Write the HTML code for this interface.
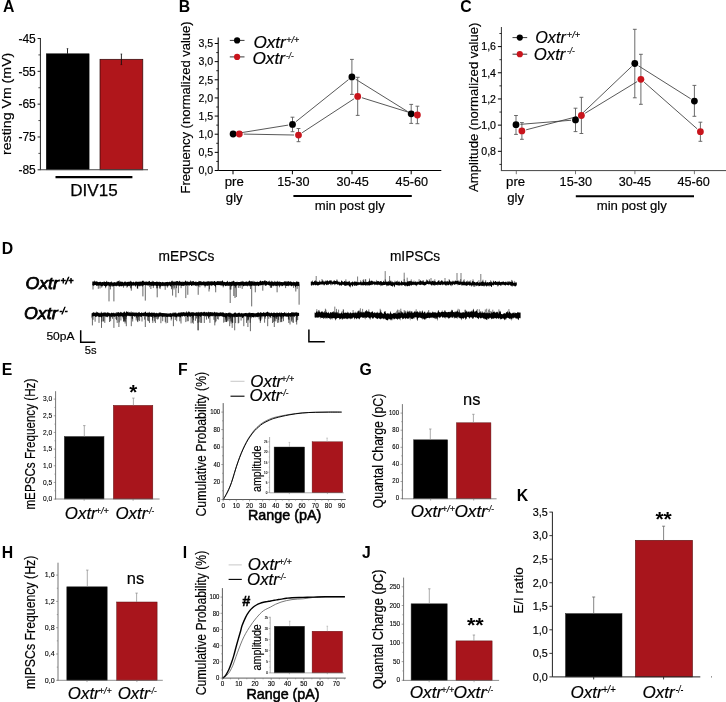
<!DOCTYPE html>
<html><head><meta charset="utf-8"><title>Figure</title>
<style>
html,body{margin:0;padding:0;background:#fff;}
svg{display:block;font-family:"Liberation Sans",sans-serif;filter:blur(0.35px);}
text{font-family:"Liberation Sans",sans-serif;}
</style></head><body>
<svg width="726" height="702" viewBox="0 0 726 702">
<rect width="726" height="702" fill="#fff"/>
<text x="3.00" y="12.10" font-size="15.8" text-anchor="start" font-weight="bold" >A</text>
<text x="178.80" y="12.10" font-size="15.8" text-anchor="start" font-weight="bold" >B</text>
<text x="460.20" y="12.30" font-size="15.8" text-anchor="start" font-weight="bold" >C</text>
<text x="1.80" y="253.80" font-size="15.8" text-anchor="start" font-weight="bold" >D</text>
<text x="1.80" y="374.60" font-size="15.8" text-anchor="start" font-weight="bold" >E</text>
<text x="178.00" y="374.60" font-size="15.8" text-anchor="start" font-weight="bold" >F</text>
<text x="359.60" y="375.00" font-size="15.8" text-anchor="start" font-weight="bold" >G</text>
<text x="1.80" y="557.80" font-size="15.8" text-anchor="start" font-weight="bold" >H</text>
<text x="182.80" y="557.80" font-size="15.8" text-anchor="start" font-weight="bold" >I</text>
<text x="362.00" y="557.80" font-size="15.8" text-anchor="start" font-weight="bold" >J</text>
<text x="516.80" y="501.20" font-size="15.8" text-anchor="start" font-weight="bold" >K</text>
<rect x="46.30" y="53.80" width="42.80" height="116.00" fill="#000" stroke="#000" stroke-width="0.5"/>
<rect x="100.00" y="59.30" width="42.80" height="110.50" fill="#b0161b" stroke="#2a0808" stroke-width="0.7"/>
<line x1="40.40" y1="38.00" x2="40.40" y2="169.80" stroke="#222" stroke-width="1.0" />
<line x1="39.90" y1="169.80" x2="148.00" y2="169.80" stroke="#444" stroke-width="1.1" />
<line x1="37.60" y1="38.50" x2="40.40" y2="38.50" stroke="#222" stroke-width="1" />
<text x="35.80" y="42.80" font-size="12" text-anchor="end"  stroke="#000" stroke-width="0.18">-45</text>
<line x1="37.60" y1="71.33" x2="40.40" y2="71.33" stroke="#222" stroke-width="1" />
<text x="35.80" y="75.62" font-size="12" text-anchor="end"  stroke="#000" stroke-width="0.18">-55</text>
<line x1="37.60" y1="104.15" x2="40.40" y2="104.15" stroke="#222" stroke-width="1" />
<text x="35.80" y="108.45" font-size="12" text-anchor="end"  stroke="#000" stroke-width="0.18">-65</text>
<line x1="37.60" y1="136.98" x2="40.40" y2="136.98" stroke="#222" stroke-width="1" />
<text x="35.80" y="141.28" font-size="12" text-anchor="end"  stroke="#000" stroke-width="0.18">-75</text>
<line x1="37.60" y1="169.80" x2="40.40" y2="169.80" stroke="#222" stroke-width="1" />
<text x="35.80" y="174.10" font-size="12" text-anchor="end"  stroke="#000" stroke-width="0.18">-85</text>
<line x1="38.40" y1="54.91" x2="40.40" y2="54.91" stroke="#222" stroke-width="0.8" />
<line x1="38.40" y1="87.74" x2="40.40" y2="87.74" stroke="#222" stroke-width="0.8" />
<line x1="38.40" y1="120.56" x2="40.40" y2="120.56" stroke="#222" stroke-width="0.8" />
<line x1="38.40" y1="153.39" x2="40.40" y2="153.39" stroke="#222" stroke-width="0.8" />
<line x1="67.50" y1="48.60" x2="67.50" y2="53.80" stroke="#111" stroke-width="0.9" />
<line x1="66.70" y1="48.60" x2="68.30" y2="48.60" stroke="#222" stroke-width="0.7" />
<line x1="121.40" y1="54.00" x2="121.40" y2="64.60" stroke="#111" stroke-width="0.9" />
<line x1="120.60" y1="54.00" x2="122.20" y2="54.00" stroke="#222" stroke-width="0.7" />
<line x1="120.60" y1="64.60" x2="122.20" y2="64.60" stroke="#300" stroke-width="0.7" />
<line x1="55.50" y1="177.20" x2="132.40" y2="177.20" stroke="#000" stroke-width="2.2" />
<text x="93.90" y="195.60" font-size="16.8" text-anchor="middle" textLength="47.50" lengthAdjust="spacingAndGlyphs" stroke="#000" stroke-width="0.25">DIV15</text>
<text x="0" y="0" font-size="13.5" textLength="102.30" lengthAdjust="spacingAndGlyphs" stroke="#000" stroke-width="0.18" transform="translate(11.20 155.00) rotate(-90)">resting Vm (mV)</text>
<line x1="218.20" y1="37.40" x2="218.20" y2="170.50" stroke="#000" stroke-width="1.1" />
<line x1="218.20" y1="170.50" x2="441.30" y2="170.50" stroke="#000" stroke-width="1.1" />
<line x1="214.70" y1="43.50" x2="218.20" y2="43.50" stroke="#000" stroke-width="1" />
<text x="213.20" y="47.30" font-size="10.6" text-anchor="end"  stroke="#000" stroke-width="0.18">3,5</text>
<line x1="216.20" y1="52.57" x2="218.20" y2="52.57" stroke="#000" stroke-width="0.8" />
<line x1="214.70" y1="61.64" x2="218.20" y2="61.64" stroke="#000" stroke-width="1" />
<text x="213.20" y="65.44" font-size="10.6" text-anchor="end"  stroke="#000" stroke-width="0.18">3,0</text>
<line x1="216.20" y1="70.71" x2="218.20" y2="70.71" stroke="#000" stroke-width="0.8" />
<line x1="214.70" y1="79.79" x2="218.20" y2="79.79" stroke="#000" stroke-width="1" />
<text x="213.20" y="83.59" font-size="10.6" text-anchor="end"  stroke="#000" stroke-width="0.18">2,5</text>
<line x1="216.20" y1="88.86" x2="218.20" y2="88.86" stroke="#000" stroke-width="0.8" />
<line x1="214.70" y1="97.93" x2="218.20" y2="97.93" stroke="#000" stroke-width="1" />
<text x="213.20" y="101.73" font-size="10.6" text-anchor="end"  stroke="#000" stroke-width="0.18">2,0</text>
<line x1="216.20" y1="107.00" x2="218.20" y2="107.00" stroke="#000" stroke-width="0.8" />
<line x1="214.70" y1="116.07" x2="218.20" y2="116.07" stroke="#000" stroke-width="1" />
<text x="213.20" y="119.87" font-size="10.6" text-anchor="end"  stroke="#000" stroke-width="0.18">1,5</text>
<line x1="216.20" y1="125.14" x2="218.20" y2="125.14" stroke="#000" stroke-width="0.8" />
<line x1="214.70" y1="134.21" x2="218.20" y2="134.21" stroke="#000" stroke-width="1" />
<text x="213.20" y="138.01" font-size="10.6" text-anchor="end"  stroke="#000" stroke-width="0.18">1,0</text>
<line x1="216.20" y1="143.29" x2="218.20" y2="143.29" stroke="#000" stroke-width="0.8" />
<line x1="214.70" y1="152.36" x2="218.20" y2="152.36" stroke="#000" stroke-width="1" />
<text x="213.20" y="156.16" font-size="10.6" text-anchor="end"  stroke="#000" stroke-width="0.18">0,5</text>
<line x1="216.20" y1="161.43" x2="218.20" y2="161.43" stroke="#000" stroke-width="0.8" />
<line x1="214.70" y1="170.50" x2="218.20" y2="170.50" stroke="#000" stroke-width="1" />
<text x="213.20" y="174.30" font-size="10.6" text-anchor="end"  stroke="#000" stroke-width="0.18">0,0</text>
<line x1="237.44" y1="133.30" x2="288.16" y2="125.10" stroke="#3a3a3a" stroke-width="0.85" />
<line x1="295.94" y1="121.65" x2="348.46" y2="79.65" stroke="#3a3a3a" stroke-width="0.85" />
<line x1="355.64" y1="79.22" x2="407.46" y2="111.48" stroke="#3a3a3a" stroke-width="0.85" />
<line x1="292.50" y1="117.20" x2="292.50" y2="131.70" stroke="#5a5a5a" stroke-width="0.9" />
<line x1="290.60" y1="117.20" x2="294.40" y2="117.20" stroke="#5a5a5a" stroke-width="0.9" />
<line x1="290.60" y1="131.70" x2="294.40" y2="131.70" stroke="#5a5a5a" stroke-width="0.9" />
<line x1="351.90" y1="59.40" x2="351.90" y2="94.40" stroke="#5a5a5a" stroke-width="0.9" />
<line x1="350.00" y1="59.40" x2="353.80" y2="59.40" stroke="#5a5a5a" stroke-width="0.9" />
<line x1="350.00" y1="94.40" x2="353.80" y2="94.40" stroke="#5a5a5a" stroke-width="0.9" />
<line x1="411.20" y1="104.40" x2="411.20" y2="123.40" stroke="#5a5a5a" stroke-width="0.9" />
<line x1="409.30" y1="104.40" x2="413.10" y2="104.40" stroke="#5a5a5a" stroke-width="0.9" />
<line x1="409.30" y1="123.40" x2="413.10" y2="123.40" stroke="#5a5a5a" stroke-width="0.9" />
<line x1="243.70" y1="134.08" x2="294.10" y2="135.02" stroke="#3a3a3a" stroke-width="0.85" />
<line x1="302.18" y1="132.69" x2="354.02" y2="98.81" stroke="#3a3a3a" stroke-width="0.85" />
<line x1="361.90" y1="97.71" x2="413.20" y2="113.69" stroke="#3a3a3a" stroke-width="0.85" />
<line x1="298.50" y1="128.50" x2="298.50" y2="141.70" stroke="#5a5a5a" stroke-width="0.9" />
<line x1="296.60" y1="128.50" x2="300.40" y2="128.50" stroke="#5a5a5a" stroke-width="0.9" />
<line x1="296.60" y1="141.70" x2="300.40" y2="141.70" stroke="#5a5a5a" stroke-width="0.9" />
<line x1="357.70" y1="77.30" x2="357.70" y2="115.40" stroke="#5a5a5a" stroke-width="0.9" />
<line x1="355.80" y1="77.30" x2="359.60" y2="77.30" stroke="#5a5a5a" stroke-width="0.9" />
<line x1="355.80" y1="115.40" x2="359.60" y2="115.40" stroke="#5a5a5a" stroke-width="0.9" />
<line x1="417.40" y1="106.20" x2="417.40" y2="123.70" stroke="#5a5a5a" stroke-width="0.9" />
<line x1="415.50" y1="106.20" x2="419.30" y2="106.20" stroke="#5a5a5a" stroke-width="0.9" />
<line x1="415.50" y1="123.70" x2="419.30" y2="123.70" stroke="#5a5a5a" stroke-width="0.9" />
<circle cx="233.1" cy="134.0" r="3.4" fill="#000"/>
<circle cx="292.5" cy="124.4" r="3.4" fill="#000"/>
<circle cx="351.9" cy="76.9" r="3.4" fill="#000"/>
<circle cx="411.2" cy="113.8" r="3.4" fill="#000"/>
<circle cx="239.3" cy="134.0" r="3.4" fill="#c8141c"/>
<circle cx="298.5" cy="135.1" r="3.4" fill="#c8141c"/>
<circle cx="357.7" cy="96.4" r="3.4" fill="#c8141c"/>
<circle cx="417.4" cy="115.0" r="3.4" fill="#c8141c"/>
<line x1="233.00" y1="170.50" x2="233.00" y2="174.30" stroke="#000" stroke-width="1" />
<line x1="292.40" y1="170.50" x2="292.40" y2="174.30" stroke="#000" stroke-width="1" />
<line x1="352.00" y1="170.50" x2="352.00" y2="174.30" stroke="#000" stroke-width="1" />
<line x1="411.20" y1="170.50" x2="411.20" y2="174.30" stroke="#000" stroke-width="1" />
<text x="234.30" y="186.20" font-size="13.2" text-anchor="middle"  stroke="#000" stroke-width="0.18">pre</text>
<text x="234.30" y="201.60" font-size="13.2" text-anchor="middle"  stroke="#000" stroke-width="0.18">gly</text>
<text x="293.40" y="186.30" font-size="13.2" text-anchor="middle" textLength="32.40" lengthAdjust="spacingAndGlyphs"  stroke="#000" stroke-width="0.18">15-30</text>
<text x="352.60" y="186.30" font-size="13.2" text-anchor="middle" textLength="32.40" lengthAdjust="spacingAndGlyphs"  stroke="#000" stroke-width="0.18">30-45</text>
<text x="411.80" y="186.30" font-size="13.2" text-anchor="middle" textLength="32.40" lengthAdjust="spacingAndGlyphs"  stroke="#000" stroke-width="0.18">45-60</text>
<line x1="293.40" y1="196.00" x2="411.80" y2="196.00" stroke="#000" stroke-width="2" />
<text x="349.80" y="209.70" font-size="13.2" text-anchor="middle" textLength="70.20" lengthAdjust="spacingAndGlyphs"  stroke="#000" stroke-width="0.18">min post gly</text>
<text x="0" y="0" font-size="13.3" textLength="172.20" lengthAdjust="spacingAndGlyphs" stroke="#000" stroke-width="0.18" transform="translate(190.00 193.50) rotate(-90)">Frequency (normalized value)</text>
<line x1="229.80" y1="40.40" x2="244.50" y2="40.40" stroke="#222" stroke-width="0.9" />
<circle cx="237.1" cy="40.4" r="3.1" fill="#000"/>
<line x1="229.80" y1="56.90" x2="244.50" y2="56.90" stroke="#222" stroke-width="0.9" />
<circle cx="237.1" cy="56.9" r="3.1" fill="#c8141c"/>
<text x="253.40" y="47.50" font-size="17" font-style="italic" stroke="#000" stroke-width="0.18" textLength="32.40" lengthAdjust="spacingAndGlyphs">Oxtr</text>
<text x="286.20" y="42.60" font-size="9.40" font-style="italic" stroke="#000" stroke-width="0.18" textLength="13.00" lengthAdjust="spacingAndGlyphs">+/+</text>
<text x="252.40" y="64.30" font-size="17" font-style="italic" stroke="#000" stroke-width="0.18" textLength="32.60" lengthAdjust="spacingAndGlyphs">Oxtr</text>
<text x="286.10" y="59.10" font-size="9.60" font-style="italic" stroke="#000" stroke-width="0.18" textLength="7.60" lengthAdjust="spacingAndGlyphs">-/-</text>
<line x1="501.40" y1="27.00" x2="501.40" y2="170.60" stroke="#333" stroke-width="1.0" />
<line x1="500.90" y1="170.60" x2="726.00" y2="170.60" stroke="#444" stroke-width="1.0" />
<line x1="497.90" y1="46.60" x2="501.40" y2="46.60" stroke="#000" stroke-width="1" />
<text x="496.00" y="50.40" font-size="10.6" text-anchor="end"  stroke="#000" stroke-width="0.18">1,6</text>
<line x1="497.90" y1="72.78" x2="501.40" y2="72.78" stroke="#000" stroke-width="1" />
<text x="496.00" y="76.58" font-size="10.6" text-anchor="end"  stroke="#000" stroke-width="0.18">1,4</text>
<line x1="497.90" y1="98.96" x2="501.40" y2="98.96" stroke="#000" stroke-width="1" />
<text x="496.00" y="102.76" font-size="10.6" text-anchor="end"  stroke="#000" stroke-width="0.18">1,2</text>
<line x1="497.90" y1="125.14" x2="501.40" y2="125.14" stroke="#000" stroke-width="1" />
<text x="496.00" y="128.94" font-size="10.6" text-anchor="end"  stroke="#000" stroke-width="0.18">1,0</text>
<line x1="497.90" y1="151.32" x2="501.40" y2="151.32" stroke="#000" stroke-width="1" />
<text x="496.00" y="155.12" font-size="10.6" text-anchor="end"  stroke="#000" stroke-width="0.18">0,8</text>
<line x1="499.40" y1="33.51" x2="501.40" y2="33.51" stroke="#000" stroke-width="0.8" />
<line x1="499.40" y1="59.69" x2="501.40" y2="59.69" stroke="#000" stroke-width="0.8" />
<line x1="499.40" y1="85.87" x2="501.40" y2="85.87" stroke="#000" stroke-width="0.8" />
<line x1="499.40" y1="112.05" x2="501.40" y2="112.05" stroke="#000" stroke-width="0.8" />
<line x1="499.40" y1="138.23" x2="501.40" y2="138.23" stroke="#000" stroke-width="0.8" />
<line x1="499.40" y1="164.41" x2="501.40" y2="164.41" stroke="#000" stroke-width="0.8" />
<line x1="520.39" y1="124.35" x2="571.11" y2="120.25" stroke="#3a3a3a" stroke-width="0.85" />
<line x1="578.69" y1="116.87" x2="631.61" y2="66.53" stroke="#3a3a3a" stroke-width="0.85" />
<line x1="638.52" y1="65.85" x2="690.68" y2="98.75" stroke="#3a3a3a" stroke-width="0.85" />
<line x1="516.00" y1="115.50" x2="516.00" y2="134.40" stroke="#5a5a5a" stroke-width="0.9" />
<line x1="514.10" y1="115.50" x2="517.90" y2="115.50" stroke="#5a5a5a" stroke-width="0.9" />
<line x1="514.10" y1="134.40" x2="517.90" y2="134.40" stroke="#5a5a5a" stroke-width="0.9" />
<line x1="575.50" y1="108.20" x2="575.50" y2="131.60" stroke="#5a5a5a" stroke-width="0.9" />
<line x1="573.60" y1="108.20" x2="577.40" y2="108.20" stroke="#5a5a5a" stroke-width="0.9" />
<line x1="573.60" y1="131.60" x2="577.40" y2="131.60" stroke="#5a5a5a" stroke-width="0.9" />
<line x1="634.80" y1="29.30" x2="634.80" y2="97.80" stroke="#5a5a5a" stroke-width="0.9" />
<line x1="632.90" y1="29.30" x2="636.70" y2="29.30" stroke="#5a5a5a" stroke-width="0.9" />
<line x1="632.90" y1="97.80" x2="636.70" y2="97.80" stroke="#5a5a5a" stroke-width="0.9" />
<line x1="694.40" y1="85.40" x2="694.40" y2="116.30" stroke="#5a5a5a" stroke-width="0.9" />
<line x1="692.50" y1="85.40" x2="696.30" y2="85.40" stroke="#5a5a5a" stroke-width="0.9" />
<line x1="692.50" y1="116.30" x2="696.30" y2="116.30" stroke="#5a5a5a" stroke-width="0.9" />
<line x1="526.16" y1="129.80" x2="577.14" y2="116.60" stroke="#3a3a3a" stroke-width="0.85" />
<line x1="585.16" y1="113.21" x2="637.14" y2="81.59" stroke="#3a3a3a" stroke-width="0.85" />
<line x1="644.20" y1="82.21" x2="697.10" y2="128.79" stroke="#3a3a3a" stroke-width="0.85" />
<line x1="521.90" y1="122.60" x2="521.90" y2="139.30" stroke="#5a5a5a" stroke-width="0.9" />
<line x1="520.00" y1="122.60" x2="523.80" y2="122.60" stroke="#5a5a5a" stroke-width="0.9" />
<line x1="520.00" y1="139.30" x2="523.80" y2="139.30" stroke="#5a5a5a" stroke-width="0.9" />
<line x1="581.40" y1="97.30" x2="581.40" y2="133.50" stroke="#5a5a5a" stroke-width="0.9" />
<line x1="579.50" y1="97.30" x2="583.30" y2="97.30" stroke="#5a5a5a" stroke-width="0.9" />
<line x1="579.50" y1="133.50" x2="583.30" y2="133.50" stroke="#5a5a5a" stroke-width="0.9" />
<line x1="640.90" y1="54.30" x2="640.90" y2="104.30" stroke="#5a5a5a" stroke-width="0.9" />
<line x1="639.00" y1="54.30" x2="642.80" y2="54.30" stroke="#5a5a5a" stroke-width="0.9" />
<line x1="639.00" y1="104.30" x2="642.80" y2="104.30" stroke="#5a5a5a" stroke-width="0.9" />
<line x1="700.40" y1="122.20" x2="700.40" y2="141.30" stroke="#5a5a5a" stroke-width="0.9" />
<line x1="698.50" y1="122.20" x2="702.30" y2="122.20" stroke="#5a5a5a" stroke-width="0.9" />
<line x1="698.50" y1="141.30" x2="702.30" y2="141.30" stroke="#5a5a5a" stroke-width="0.9" />
<circle cx="516.0" cy="124.7" r="3.4" fill="#000"/>
<circle cx="575.5" cy="119.9" r="3.4" fill="#000"/>
<circle cx="634.8" cy="63.5" r="3.4" fill="#000"/>
<circle cx="694.4" cy="101.1" r="3.4" fill="#000"/>
<circle cx="521.9" cy="130.9" r="3.4" fill="#c8141c"/>
<circle cx="581.4" cy="115.5" r="3.4" fill="#c8141c"/>
<circle cx="640.9" cy="79.3" r="3.4" fill="#c8141c"/>
<circle cx="700.4" cy="131.7" r="3.4" fill="#c8141c"/>
<line x1="516.30" y1="170.60" x2="516.30" y2="174.20" stroke="#555" stroke-width="0.8" />
<line x1="575.50" y1="170.60" x2="575.50" y2="174.20" stroke="#555" stroke-width="0.8" />
<line x1="634.90" y1="170.60" x2="634.90" y2="174.20" stroke="#555" stroke-width="0.8" />
<line x1="694.40" y1="170.60" x2="694.40" y2="174.20" stroke="#555" stroke-width="0.8" />
<text x="515.60" y="186.30" font-size="13.2" text-anchor="middle"  stroke="#000" stroke-width="0.18">pre</text>
<text x="515.60" y="201.70" font-size="13.2" text-anchor="middle"  stroke="#000" stroke-width="0.18">gly</text>
<text x="575.80" y="186.40" font-size="13.2" text-anchor="middle" textLength="32.40" lengthAdjust="spacingAndGlyphs"  stroke="#000" stroke-width="0.18">15-30</text>
<text x="634.90" y="186.40" font-size="13.2" text-anchor="middle" textLength="32.40" lengthAdjust="spacingAndGlyphs"  stroke="#000" stroke-width="0.18">30-45</text>
<text x="693.60" y="186.40" font-size="13.2" text-anchor="middle" textLength="32.40" lengthAdjust="spacingAndGlyphs"  stroke="#000" stroke-width="0.18">45-60</text>
<line x1="575.80" y1="196.30" x2="694.00" y2="196.30" stroke="#000" stroke-width="2" />
<text x="631.80" y="209.80" font-size="13.2" text-anchor="middle" textLength="70.20" lengthAdjust="spacingAndGlyphs"  stroke="#000" stroke-width="0.18">min post gly</text>
<text x="0" y="0" font-size="13.3" textLength="169.30" lengthAdjust="spacingAndGlyphs" stroke="#000" stroke-width="0.18" transform="translate(478.20 191.90) rotate(-90)">Amplitude (normalized value)</text>
<line x1="512.50" y1="37.60" x2="527.20" y2="37.60" stroke="#222" stroke-width="0.9" />
<circle cx="519.8" cy="37.6" r="3.1" fill="#000"/>
<line x1="512.50" y1="54.20" x2="527.20" y2="54.20" stroke="#222" stroke-width="0.9" />
<circle cx="519.8" cy="54.2" r="3.1" fill="#c8141c"/>
<text x="535.20" y="42.60" font-size="17" font-style="italic" stroke="#000" stroke-width="0.18" textLength="30.60" lengthAdjust="spacingAndGlyphs">Oxtr</text>
<text x="566.80" y="37.90" font-size="9.40" font-style="italic" stroke="#000" stroke-width="0.18" textLength="13.40" lengthAdjust="spacingAndGlyphs">+/+</text>
<text x="533.80" y="59.50" font-size="17" font-style="italic" stroke="#000" stroke-width="0.18" textLength="31.60" lengthAdjust="spacingAndGlyphs">Oxtr</text>
<text x="566.90" y="54.00" font-size="9.60" font-style="italic" stroke="#000" stroke-width="0.18" textLength="7.80" lengthAdjust="spacingAndGlyphs">-/-</text>
<text x="25.40" y="288.80" font-size="16.4" font-style="italic" stroke="#000" stroke-width="0.75" textLength="33.60" lengthAdjust="spacingAndGlyphs">Oxtr</text>
<text x="60.60" y="283.80" font-size="9.60" font-style="italic" stroke="#000" stroke-width="0.75" textLength="13.00" lengthAdjust="spacingAndGlyphs">+/+</text>
<text x="24.00" y="319.00" font-size="16.4" font-style="italic" stroke="#000" stroke-width="0.75" textLength="33.60" lengthAdjust="spacingAndGlyphs">Oxtr</text>
<text x="59.60" y="314.00" font-size="9.60" font-style="italic" stroke="#000" stroke-width="0.75" textLength="7.80" lengthAdjust="spacingAndGlyphs">-/-</text>
<text x="186.40" y="261.30" font-size="14.3" text-anchor="middle" textLength="55.80" lengthAdjust="spacingAndGlyphs"  stroke="#000" stroke-width="0.18">mEPSCs</text>
<text x="415.10" y="261.10" font-size="14.3" text-anchor="middle" textLength="50.30" lengthAdjust="spacingAndGlyphs"  stroke="#000" stroke-width="0.18">mIPSCs</text>
<text x="46.40" y="339.80" font-size="11.6" text-anchor="start" textLength="28.10" lengthAdjust="spacingAndGlyphs"  stroke="#000" stroke-width="0.18">50pA</text>
<text x="84.70" y="353.80" font-size="11.6" text-anchor="start" textLength="11.80" lengthAdjust="spacingAndGlyphs"  stroke="#000" stroke-width="0.18">5s</text>
<polyline fill="none" stroke="#000" stroke-width="1.5" points="80.7,330.3 80.7,342.3 95.3,342.3"/>
<polyline fill="none" stroke="#000" stroke-width="1.5" points="308.9,329.5 308.9,341.7 324.8,341.7"/>
<polygon fill="#000" points="92.3,281.9 92.8,281.2 93.3,281.4 93.8,281.6 94.3,281.5 94.8,280.3 95.3,281.3 95.8,281.9 96.3,281.7 96.8,280.8 97.3,282.0 97.8,281.5 98.3,282.3 98.8,282.0 99.3,281.9 99.8,281.7 100.3,281.9 100.8,281.6 101.3,282.2 101.8,282.3 102.3,282.1 102.8,282.0 103.3,282.2 103.8,281.6 104.3,281.3 104.8,281.9 105.3,281.9 105.8,281.9 106.3,281.7 106.8,280.5 107.3,281.8 107.8,282.2 108.3,281.8 108.8,281.9 109.3,282.3 109.8,282.3 110.3,281.8 110.8,282.5 111.3,280.9 111.8,282.2 112.3,282.2 112.8,282.7 113.3,282.4 113.8,282.3 114.3,282.1 114.8,282.2 115.3,282.6 115.8,282.3 116.3,282.4 116.8,281.6 117.3,281.7 117.8,281.0 118.3,280.8 118.8,281.4 119.3,279.9 119.8,282.4 120.3,281.3 120.8,281.7 121.3,281.6 121.8,281.9 122.3,281.9 122.8,281.5 123.3,282.5 123.8,282.4 124.3,281.8 124.8,281.4 125.3,282.3 125.8,281.0 126.3,282.2 126.8,282.2 127.3,281.8 127.8,282.0 128.3,281.7 128.8,281.8 129.3,282.0 129.8,281.6 130.3,280.5 130.8,281.8 131.3,281.6 131.8,281.7 132.3,282.3 132.8,282.2 133.3,281.4 133.8,282.0 134.3,282.4 134.8,282.2 135.3,281.7 135.8,281.6 136.3,281.8 136.8,281.4 137.3,281.8 137.8,282.0 138.3,281.4 138.8,282.0 139.3,281.9 139.8,281.3 140.3,281.7 140.8,281.5 141.3,281.8 141.8,281.4 142.3,280.6 142.8,280.9 143.3,280.6 143.8,281.4 144.3,281.6 144.8,281.9 145.3,281.6 145.8,281.8 146.3,281.9 146.8,281.1 147.3,281.9 147.8,281.8 148.3,281.3 148.8,281.7 149.3,280.7 149.8,281.3 150.3,281.9 150.8,282.0 151.3,282.0 151.8,281.5 152.3,282.0 152.8,280.6 153.3,281.4 153.8,281.6 154.3,282.1 154.8,281.9 155.3,282.1 155.8,282.1 156.3,281.5 156.8,281.7 157.3,281.8 157.8,281.8 158.3,282.2 158.8,281.8 159.3,281.6 159.8,282.3 160.3,282.0 160.8,282.0 161.3,282.3 161.8,282.6 162.3,282.0 162.8,281.7 163.3,282.6 163.8,282.1 164.3,282.4 164.8,282.3 165.3,282.3 165.8,282.0 166.3,281.9 166.8,281.9 167.3,281.7 167.8,282.0 168.3,282.2 168.8,281.9 169.3,281.6 169.8,282.1 170.3,282.3 170.8,281.8 171.3,281.6 171.8,280.8 172.3,280.5 172.8,281.7 173.3,281.2 173.8,282.0 174.3,281.7 174.8,281.4 175.3,281.2 175.8,281.9 176.3,281.3 176.8,281.1 177.3,280.9 177.8,281.2 178.3,281.4 178.8,281.9 179.3,280.5 179.8,281.2 180.3,282.2 180.8,281.2 181.3,281.8 181.8,282.0 182.3,282.2 182.8,281.3 183.3,281.8 183.8,282.0 184.3,282.1 184.8,281.6 185.3,281.1 185.8,280.3 186.3,281.5 186.8,281.7 187.3,281.9 187.8,280.7 188.3,281.8 188.8,282.0 189.3,281.9 189.8,281.5 190.3,281.6 190.8,280.1 191.3,281.4 191.8,281.8 192.3,281.5 192.8,281.0 193.3,281.5 193.8,280.8 194.3,282.1 194.8,282.0 195.3,282.1 195.8,281.2 196.3,281.6 196.8,282.2 197.3,282.1 197.8,282.1 198.3,281.9 198.8,280.8 199.3,281.2 199.8,281.3 200.3,281.2 200.8,281.3 201.3,281.5 201.8,281.8 202.3,281.8 202.8,281.9 203.3,281.0 203.8,281.7 204.3,281.2 204.8,281.9 205.3,281.4 205.8,282.0 206.3,281.5 206.8,281.7 207.3,281.2 207.8,281.4 208.3,281.6 208.8,281.1 209.3,281.9 209.8,280.9 210.3,282.0 210.8,281.1 211.3,281.1 211.8,281.8 212.3,281.8 212.8,280.9 213.3,281.9 213.8,281.2 214.3,280.9 214.8,281.1 215.3,281.7 215.8,281.7 216.3,281.7 216.8,281.4 217.3,281.0 217.8,281.3 218.3,281.3 218.8,281.2 219.3,281.0 219.8,281.7 220.3,280.7 220.8,281.7 221.3,280.8 221.8,281.7 222.3,280.5 222.8,280.2 223.3,281.9 223.8,281.8 224.3,281.8 224.8,281.9 225.3,282.2 225.8,282.1 226.3,282.0 226.8,281.7 227.3,280.4 227.8,281.6 228.3,282.4 228.8,281.8 229.3,282.0 229.8,281.4 230.3,281.9 230.8,282.0 231.3,281.8 231.8,281.5 232.3,281.7 232.8,281.1 233.3,281.3 233.8,280.4 234.3,281.3 234.8,282.2 235.3,281.9 235.8,282.1 236.3,281.8 236.8,282.1 237.3,281.5 237.8,282.2 238.3,282.0 238.8,282.1 239.3,282.0 239.8,281.9 240.3,281.4 240.8,282.0 241.3,282.1 241.8,281.1 242.3,280.8 242.8,282.1 243.3,281.5 243.8,281.6 244.3,282.2 244.8,281.7 245.3,282.1 245.8,281.4 246.3,281.6 246.8,281.5 247.3,282.2 247.8,281.6 248.3,281.8 248.8,281.2 249.3,280.6 249.8,280.8 250.3,281.1 250.8,281.7 251.3,281.2 251.8,281.3 252.3,280.8 252.8,282.1 253.3,282.3 253.8,280.6 254.3,281.8 254.8,281.5 255.3,282.1 255.8,281.8 256.3,282.1 256.8,281.7 257.3,282.1 257.8,281.2 258.3,282.0 258.8,282.0 259.3,281.7 259.8,281.2 260.3,281.1 260.8,280.2 261.3,281.5 261.8,281.5 262.3,281.0 262.8,281.1 263.3,281.6 263.8,281.1 264.3,280.9 264.8,280.0 265.3,280.3 265.8,281.5 266.3,281.0 266.8,281.0 267.3,281.7 267.8,281.7 268.3,281.0 268.8,281.7 269.3,281.7 269.8,280.2 270.3,282.0 270.8,281.8 271.3,281.7 271.8,280.5 272.3,281.3 272.8,282.1 273.3,281.7 273.8,282.2 274.3,280.6 274.8,282.2 275.3,281.8 275.8,281.6 276.3,281.4 276.8,282.1 277.3,281.8 277.8,280.5 278.3,281.9 278.8,281.8 279.3,280.9 279.8,282.3 280.3,281.4 280.8,282.2 281.3,282.0 281.8,281.9 282.3,281.9 282.8,282.2 283.3,282.2 283.8,281.7 284.3,281.8 284.8,281.0 285.3,280.9 285.8,282.1 286.3,282.2 286.8,280.8 287.3,281.8 287.8,281.5 288.3,280.9 288.8,281.4 289.3,281.7 289.8,281.7 290.3,281.6 290.8,281.2 291.3,281.9 291.8,281.8 292.3,282.2 292.8,282.3 293.3,282.3 293.8,281.2 294.3,282.3 294.8,281.9 295.3,282.2 295.8,282.3 296.3,281.9 296.8,280.7 297.3,281.9 297.8,281.6 298.3,282.1 298.8,281.7 299.3,281.9 299.3,286.5 298.8,286.1 298.3,285.9 297.8,285.4 297.3,286.3 296.8,285.7 296.3,285.9 295.8,286.5 295.3,287.7 294.8,285.7 294.3,285.7 293.8,285.6 293.3,285.7 292.8,285.5 292.3,285.7 291.8,286.5 291.3,285.9 290.8,286.0 290.3,285.3 289.8,285.4 289.3,285.6 288.8,285.6 288.3,286.6 287.8,285.4 287.3,286.0 286.8,285.8 286.3,286.1 285.8,286.1 285.3,285.2 284.8,285.5 284.3,285.5 283.8,285.2 283.3,285.5 282.8,286.2 282.3,285.9 281.8,285.3 281.3,286.5 280.8,285.3 280.3,285.8 279.8,285.8 279.3,285.7 278.8,285.5 278.3,285.4 277.8,286.4 277.3,285.3 276.8,285.7 276.3,285.9 275.8,286.3 275.3,285.4 274.8,285.8 274.3,285.5 273.8,285.6 273.3,286.5 272.8,285.4 272.3,285.7 271.8,286.9 271.3,285.6 270.8,285.4 270.3,285.5 269.8,285.9 269.3,285.3 268.8,284.9 268.3,285.3 267.8,284.9 267.3,284.6 266.8,285.2 266.3,285.6 265.8,285.8 265.3,285.7 264.8,285.6 264.3,284.6 263.8,284.6 263.3,285.6 262.8,285.1 262.3,284.8 261.8,285.5 261.3,284.9 260.8,285.3 260.3,285.5 259.8,285.2 259.3,285.6 258.8,286.3 258.3,285.9 257.8,285.4 257.3,285.4 256.8,285.4 256.3,285.8 255.8,285.8 255.3,285.4 254.8,285.8 254.3,285.8 253.8,285.4 253.3,285.7 252.8,285.7 252.3,285.3 251.8,286.2 251.3,285.7 250.8,285.4 250.3,286.1 249.8,286.5 249.3,285.6 248.8,285.6 248.3,285.6 247.8,286.8 247.3,285.5 246.8,286.1 246.3,285.6 245.8,286.1 245.3,285.6 244.8,285.7 244.3,285.7 243.8,285.9 243.3,286.4 242.8,285.2 242.3,285.6 241.8,285.2 241.3,285.8 240.8,285.5 240.3,285.6 239.8,285.8 239.3,285.7 238.8,285.5 238.3,285.3 237.8,285.8 237.3,285.1 236.8,285.8 236.3,285.8 235.8,285.6 235.3,287.5 234.8,285.7 234.3,285.9 233.8,285.6 233.3,285.7 232.8,285.4 232.3,285.7 231.8,286.4 231.3,286.1 230.8,285.4 230.3,285.4 229.8,285.5 229.3,286.1 228.8,285.5 228.3,286.1 227.8,286.3 227.3,285.2 226.8,285.9 226.3,285.5 225.8,286.2 225.3,286.1 224.8,285.5 224.3,285.2 223.8,285.6 223.3,286.6 222.8,285.5 222.3,285.5 221.8,285.7 221.3,285.2 220.8,285.4 220.3,285.3 219.8,285.3 219.3,285.1 218.8,285.2 218.3,285.0 217.8,285.1 217.3,285.2 216.8,285.0 216.3,284.9 215.8,285.6 215.3,286.0 214.8,286.1 214.3,285.6 213.8,285.2 213.3,285.1 212.8,285.1 212.3,285.4 211.8,286.2 211.3,285.3 210.8,285.5 210.3,285.2 209.8,285.4 209.3,285.1 208.8,285.2 208.3,285.8 207.8,286.0 207.3,285.5 206.8,285.8 206.3,285.5 205.8,285.6 205.3,286.4 204.8,285.6 204.3,285.7 203.8,285.8 203.3,285.1 202.8,285.3 202.3,285.2 201.8,286.0 201.3,285.0 200.8,285.3 200.3,285.2 199.8,285.2 199.3,285.0 198.8,286.9 198.3,285.3 197.8,285.6 197.3,285.6 196.8,286.6 196.3,285.3 195.8,285.5 195.3,286.1 194.8,285.4 194.3,285.1 193.8,285.8 193.3,284.9 192.8,285.4 192.3,285.3 191.8,285.9 191.3,286.0 190.8,284.9 190.3,285.0 189.8,285.1 189.3,285.9 188.8,285.2 188.3,285.5 187.8,285.2 187.3,285.2 186.8,285.3 186.3,285.9 185.8,285.2 185.3,285.1 184.8,286.2 184.3,285.1 183.8,286.3 183.3,285.7 182.8,285.4 182.3,286.0 181.8,286.0 181.3,285.7 180.8,285.8 180.3,285.2 179.8,285.2 179.3,285.9 178.8,285.3 178.3,285.5 177.8,285.8 177.3,285.2 176.8,285.0 176.3,285.8 175.8,285.7 175.3,285.1 174.8,285.0 174.3,285.4 173.8,285.7 173.3,285.5 172.8,285.6 172.3,285.1 171.8,285.2 171.3,285.8 170.8,286.5 170.3,286.2 169.8,285.6 169.3,285.3 168.8,286.6 168.3,285.3 167.8,286.0 167.3,286.5 166.8,285.3 166.3,286.5 165.8,285.5 165.3,286.2 164.8,285.6 164.3,286.4 163.8,285.5 163.3,286.2 162.8,286.2 162.3,285.7 161.8,285.9 161.3,285.5 160.8,288.1 160.3,286.0 159.8,286.6 159.3,285.7 158.8,286.0 158.3,285.5 157.8,285.8 157.3,286.0 156.8,285.9 156.3,286.1 155.8,285.8 155.3,285.4 154.8,285.4 154.3,285.5 153.8,286.6 153.3,285.7 152.8,285.6 152.3,285.9 151.8,285.5 151.3,286.2 150.8,285.1 150.3,285.9 149.8,285.2 149.3,285.3 148.8,285.5 148.3,285.5 147.8,286.1 147.3,285.0 146.8,285.1 146.3,285.5 145.8,285.3 145.3,285.6 144.8,285.1 144.3,285.1 143.8,285.4 143.3,285.4 142.8,285.4 142.3,287.1 141.8,286.0 141.3,285.4 140.8,285.5 140.3,286.2 139.8,286.5 139.3,285.8 138.8,285.4 138.3,286.2 137.8,286.1 137.3,285.2 136.8,285.2 136.3,285.6 135.8,286.9 135.3,286.0 134.8,285.5 134.3,285.6 133.8,285.4 133.3,285.7 132.8,285.4 132.3,285.4 131.8,286.5 131.3,285.9 130.8,285.4 130.3,285.3 129.8,286.5 129.3,285.8 128.8,285.8 128.3,286.0 127.8,286.4 127.3,286.8 126.8,285.7 126.3,285.5 125.8,286.3 125.3,285.5 124.8,285.5 124.3,286.3 123.8,286.3 123.3,285.5 122.8,285.8 122.3,286.2 121.8,286.1 121.3,286.5 120.8,286.2 120.3,285.8 119.8,287.0 119.3,286.2 118.8,285.6 118.3,286.5 117.8,285.7 117.3,285.7 116.8,285.7 116.3,286.5 115.8,286.2 115.3,285.8 114.8,285.8 114.3,286.0 113.8,285.9 113.3,286.2 112.8,287.1 112.3,285.7 111.8,285.6 111.3,286.3 110.8,287.3 110.3,285.4 109.8,285.8 109.3,286.8 108.8,286.0 108.3,285.3 107.8,285.5 107.3,285.4 106.8,286.6 106.3,286.0 105.8,286.8 105.3,286.7 104.8,285.9 104.3,286.0 103.8,285.6 103.3,285.4 102.8,285.7 102.3,286.5 101.8,285.9 101.3,286.2 100.8,285.6 100.3,285.7 99.8,285.7 99.3,285.2 98.8,285.6 98.3,285.8 97.8,285.2 97.3,286.1 96.8,285.6 96.3,285.9 95.8,285.1 95.3,285.1 94.8,285.3 94.3,285.2 93.8,285.4 93.3,286.0 92.8,285.1 92.3,285.8"/>
<path d="M109.0,283.7L109.0,301.4M113.9,283.7L113.9,301.4M131.3,283.7L131.3,290.7M142.9,283.7L142.9,296.4M145.3,283.7L145.3,300.6M157.2,283.7L157.2,297.3M165.2,283.7L165.2,289.8M172.6,283.7L172.6,295.6M175.9,283.7L175.9,297.3M178.4,283.7L178.4,293.1M185.8,283.7L185.8,298.1M187.8,283.7L187.8,294.8M198.2,283.7L198.2,294.8M209.0,283.7L209.0,291.5M215.7,283.7L215.7,292.3M230.2,283.7L230.2,303.0M233.8,283.7L233.8,296.0M235.0,283.7L235.0,298.0M236.3,283.7L236.3,297.0M251.7,283.7L251.7,306.4M255.3,283.7L255.3,292.3M262.8,283.7L262.8,290.7M277.1,283.7L277.1,292.3M295.8,283.7L295.8,291.5M299.1,283.7L299.1,304.7M93.0,283.7L93.0,289.5M100.0,283.7L100.0,288.5M171.5,283.7L171.5,289.2M137.5,283.7L137.5,288.1M131.0,283.7L131.0,288.6M126.9,283.7L126.9,287.7M137.3,283.7L137.3,288.4M156.6,283.7L156.6,288.3M297.2,283.7L297.2,288.9M270.4,283.7L270.4,287.7M171.9,283.7L171.9,287.4M235.2,283.7L235.2,288.1M149.7,283.7L149.7,287.2M130.7,283.7L130.7,287.9M174.0,283.7L174.0,289.5M240.1,283.7L240.1,287.9M167.4,283.7L167.4,287.6M285.6,283.7L285.6,288.1M250.5,283.7L250.5,289.0M279.5,283.7L279.5,287.3M159.4,283.7L159.4,288.2M110.4,283.7L110.4,289.4M160.1,283.7L160.1,289.1M199.9,283.7L199.9,287.3M174.2,283.7L174.2,287.8M101.7,283.7L101.7,287.6M215.5,283.7L215.5,287.3M157.4,283.7L157.4,288.3M205.0,283.7L205.0,287.5M238.4,283.7L238.4,287.9M242.2,283.7L242.2,288.9M123.5,283.7L123.5,287.7M150.9,283.7L150.9,289.0M176.5,283.7L176.5,288.2M271.1,283.7L271.1,287.8M153.3,283.7L153.3,288.1M137.6,283.7L137.6,287.3M98.3,283.7L98.3,288.8M209.5,283.7L209.5,289.2M293.6,283.7L293.6,287.9M231.0,283.7L231.0,289.5M137.7,283.7L137.7,288.9M230.2,283.7L230.2,289.6M271.6,283.7L271.6,287.8M223.2,283.7L223.2,287.4M181.1,283.7L181.1,288.2M105.6,283.7L105.6,288.2" stroke="#000" stroke-width="0.7" fill="none" opacity="0.85"/>
<polygon fill="#000" points="91.6,313.2 92.1,313.2 92.6,312.7 93.1,312.6 93.6,312.1 94.1,313.0 94.6,312.4 95.1,312.5 95.6,312.7 96.1,312.9 96.6,311.3 97.1,312.3 97.6,312.3 98.1,312.4 98.6,313.1 99.1,312.5 99.6,313.2 100.1,313.2 100.6,313.3 101.1,311.3 101.6,312.7 102.1,312.6 102.6,313.2 103.1,312.7 103.6,312.7 104.1,312.1 104.6,312.9 105.1,312.1 105.6,313.0 106.1,312.3 106.6,313.3 107.1,313.0 107.6,312.1 108.1,312.5 108.6,312.8 109.1,312.8 109.6,313.0 110.1,313.4 110.6,313.2 111.1,313.1 111.6,312.5 112.1,312.7 112.6,313.3 113.1,312.6 113.6,312.7 114.1,313.5 114.6,313.1 115.1,312.6 115.6,313.3 116.1,313.4 116.6,311.7 117.1,312.9 117.6,311.9 118.1,312.4 118.6,312.0 119.1,312.2 119.6,313.1 120.1,312.7 120.6,311.8 121.1,311.9 121.6,312.4 122.1,313.0 122.6,312.7 123.1,312.5 123.6,312.4 124.1,311.3 124.6,311.8 125.1,312.6 125.6,312.9 126.1,312.0 126.6,311.1 127.1,311.7 127.6,312.3 128.1,311.3 128.6,312.7 129.1,312.3 129.6,312.2 130.1,312.7 130.6,312.5 131.1,311.1 131.6,312.8 132.1,312.7 132.6,312.3 133.1,311.7 133.6,313.0 134.1,312.2 134.6,312.7 135.1,312.7 135.6,312.6 136.1,312.6 136.6,312.5 137.1,313.0 137.6,312.7 138.1,312.5 138.6,312.5 139.1,311.8 139.6,312.6 140.1,313.1 140.6,312.9 141.1,313.0 141.6,311.9 142.1,312.7 142.6,312.9 143.1,312.6 143.6,312.7 144.1,313.0 144.6,312.2 145.1,311.7 145.6,311.6 146.1,312.5 146.6,313.0 147.1,313.1 147.6,312.6 148.1,312.4 148.6,312.9 149.1,311.4 149.6,312.6 150.1,312.9 150.6,313.0 151.1,312.2 151.6,312.8 152.1,312.7 152.6,312.8 153.1,312.4 153.6,312.8 154.1,313.3 154.6,312.3 155.1,312.9 155.6,313.3 156.1,313.3 156.6,312.4 157.1,313.4 157.6,313.1 158.1,313.3 158.6,313.2 159.1,311.9 159.6,312.7 160.1,313.1 160.6,312.1 161.1,313.2 161.6,312.7 162.1,313.1 162.6,312.9 163.1,313.2 163.6,313.1 164.1,312.9 164.6,313.3 165.1,313.2 165.6,313.2 166.1,313.3 166.6,313.6 167.1,312.7 167.6,313.9 168.1,312.9 168.6,313.7 169.1,313.6 169.6,313.5 170.1,312.8 170.6,313.3 171.1,313.3 171.6,313.5 172.1,313.4 172.6,312.9 173.1,312.0 173.6,313.2 174.1,313.2 174.6,312.3 175.1,313.3 175.6,312.3 176.1,312.4 176.6,313.4 177.1,313.6 177.6,313.3 178.1,313.1 178.6,312.3 179.1,313.3 179.6,312.6 180.1,312.0 180.6,312.9 181.1,312.3 181.6,312.6 182.1,312.1 182.6,312.8 183.1,312.0 183.6,311.9 184.1,312.9 184.6,312.1 185.1,312.6 185.6,312.6 186.1,312.8 186.6,311.1 187.1,312.1 187.6,312.8 188.1,312.5 188.6,311.3 189.1,311.5 189.6,312.0 190.1,312.7 190.6,312.4 191.1,312.3 191.6,312.2 192.1,312.8 192.6,311.9 193.1,311.9 193.6,312.4 194.1,312.6 194.6,312.7 195.1,312.8 195.6,312.7 196.1,312.0 196.6,312.5 197.1,312.2 197.6,312.8 198.1,311.6 198.6,312.6 199.1,312.3 199.6,312.4 200.1,312.5 200.6,311.9 201.1,312.4 201.6,311.8 202.1,312.2 202.6,312.7 203.1,311.8 203.6,312.5 204.1,311.5 204.6,311.9 205.1,312.2 205.6,312.6 206.1,312.5 206.6,312.1 207.1,312.2 207.6,312.5 208.1,312.5 208.6,311.5 209.1,311.9 209.6,312.5 210.1,312.0 210.6,312.1 211.1,312.7 211.6,312.0 212.1,312.3 212.6,312.3 213.1,312.7 213.6,312.7 214.1,311.5 214.6,312.2 215.1,312.0 215.6,312.7 216.1,312.6 216.6,312.2 217.1,312.6 217.6,312.6 218.1,312.7 218.6,312.7 219.1,312.8 219.6,312.4 220.1,312.9 220.6,311.9 221.1,312.1 221.6,313.1 222.1,312.3 222.6,312.2 223.1,313.3 223.6,312.1 224.1,313.1 224.6,313.5 225.1,312.5 225.6,313.4 226.1,313.1 226.6,313.1 227.1,313.2 227.6,313.3 228.1,313.0 228.6,312.5 229.1,313.3 229.6,312.0 230.1,313.4 230.6,312.5 231.1,313.1 231.6,313.4 232.1,313.8 232.6,313.7 233.1,313.3 233.6,313.8 234.1,312.9 234.6,312.4 235.1,313.1 235.6,312.0 236.1,313.7 236.6,313.1 237.1,313.4 237.6,313.2 238.1,312.7 238.6,312.9 239.1,312.6 239.6,312.7 240.1,313.5 240.6,313.4 241.1,312.8 241.6,313.3 242.1,313.2 242.6,313.5 243.1,313.0 243.6,313.5 244.1,313.6 244.6,312.9 245.1,313.1 245.6,313.1 246.1,312.8 246.6,313.3 247.1,313.1 247.6,313.4 248.1,312.4 248.6,313.3 249.1,312.4 249.6,312.7 250.1,312.5 250.6,313.3 251.1,313.1 251.6,313.0 252.1,313.1 252.6,313.0 253.1,312.8 253.6,313.2 254.1,313.0 254.6,313.4 255.1,313.0 255.6,313.5 256.1,313.3 256.6,313.0 257.1,313.0 257.6,312.6 258.1,312.3 258.6,312.5 259.1,313.2 259.6,312.8 260.1,312.8 260.6,312.0 261.1,312.6 261.6,312.7 262.1,312.9 262.6,312.9 263.1,312.4 263.6,312.0 264.1,312.8 264.6,312.8 265.1,312.5 265.6,312.9 266.1,312.3 266.6,312.6 267.1,311.6 267.6,311.8 268.1,312.3 268.6,312.4 269.1,312.4 269.6,312.7 270.1,313.2 270.6,313.1 271.1,312.4 271.6,312.4 272.1,313.2 272.6,313.0 273.1,312.9 273.6,312.5 274.1,312.5 274.6,312.7 275.1,313.1 275.6,313.1 276.1,313.2 276.6,312.5 277.1,312.6 277.6,312.8 278.1,313.1 278.6,313.0 279.1,312.8 279.6,312.5 280.1,312.6 280.6,313.4 281.1,312.0 281.6,312.7 282.1,313.1 282.6,312.9 283.1,313.1 283.6,313.0 284.1,312.8 284.6,312.0 285.1,312.5 285.6,313.4 286.1,312.3 286.6,313.4 287.1,313.2 287.6,313.1 288.1,313.2 288.6,311.9 289.1,313.0 289.6,313.2 290.1,313.1 290.6,313.0 291.1,313.0 291.6,311.9 292.1,312.3 292.6,312.5 293.1,312.3 293.6,312.5 294.1,312.8 294.6,312.6 295.1,312.2 295.6,312.8 296.1,311.8 296.6,312.7 297.1,312.0 297.6,312.9 298.1,313.1 298.6,312.7 299.1,312.7 299.1,316.1 298.6,316.1 298.1,315.8 297.6,316.0 297.1,317.1 296.6,316.3 296.1,315.9 295.6,315.7 295.1,315.9 294.6,316.5 294.1,317.2 293.6,316.3 293.1,316.3 292.6,316.3 292.1,316.7 291.6,316.4 291.1,316.1 290.6,317.2 290.1,316.4 289.6,316.1 289.1,316.2 288.6,317.3 288.1,316.6 287.6,317.1 287.1,316.3 286.6,316.4 286.1,316.9 285.6,316.3 285.1,316.4 284.6,316.0 284.1,316.8 283.6,317.0 283.1,316.6 282.6,316.8 282.1,316.1 281.6,316.3 281.1,317.2 280.6,317.1 280.1,316.2 279.6,316.7 279.1,316.2 278.6,316.4 278.1,316.2 277.6,316.8 277.1,317.0 276.6,317.2 276.1,316.5 275.6,316.2 275.1,317.1 274.6,317.3 274.1,316.2 273.6,317.3 273.1,317.1 272.6,316.8 272.1,316.1 271.6,316.0 271.1,316.1 270.6,317.2 270.1,317.5 269.6,316.6 269.1,316.4 268.6,316.0 268.1,315.8 267.6,316.8 267.1,316.5 266.6,316.0 266.1,315.9 265.6,317.5 265.1,316.3 264.6,316.0 264.1,317.6 263.6,316.1 263.1,316.4 262.6,316.6 262.1,316.3 261.6,316.4 261.1,316.7 260.6,316.1 260.1,316.5 259.6,316.2 259.1,317.2 258.6,317.0 258.1,316.5 257.6,317.4 257.1,316.7 256.6,317.2 256.1,316.6 255.6,317.7 255.1,316.3 254.6,316.7 254.1,317.5 253.6,317.2 253.1,317.5 252.6,316.9 252.1,317.1 251.6,316.5 251.1,316.9 250.6,317.2 250.1,316.3 249.6,316.9 249.1,317.4 248.6,316.3 248.1,316.9 247.6,316.8 247.1,317.4 246.6,316.2 246.1,316.6 245.6,316.6 245.1,316.3 244.6,316.3 244.1,316.3 243.6,316.9 243.1,317.5 242.6,318.2 242.1,317.2 241.6,316.3 241.1,317.4 240.6,316.5 240.1,316.9 239.6,317.1 239.1,316.3 238.6,316.8 238.1,316.7 237.6,316.9 237.1,316.7 236.6,317.0 236.1,316.9 235.6,316.4 235.1,317.3 234.6,317.6 234.1,316.6 233.6,316.7 233.1,317.5 232.6,316.9 232.1,316.6 231.6,316.8 231.1,316.6 230.6,316.6 230.1,317.3 229.6,317.3 229.1,316.6 228.6,317.0 228.1,316.3 227.6,316.1 227.1,316.9 226.6,317.4 226.1,317.7 225.6,317.4 225.1,317.4 224.6,316.7 224.1,317.0 223.6,317.1 223.1,316.6 222.6,316.7 222.1,316.4 221.6,315.9 221.1,316.6 220.6,315.9 220.1,316.2 219.6,316.6 219.1,316.3 218.6,316.2 218.1,316.0 217.6,316.4 217.1,315.8 216.6,316.6 216.1,316.1 215.6,316.5 215.1,316.8 214.6,316.2 214.1,315.4 213.6,315.7 213.1,316.3 212.6,316.5 212.1,315.8 211.6,316.4 211.1,315.7 210.6,316.5 210.1,315.9 209.6,316.9 209.1,316.6 208.6,316.5 208.1,316.3 207.6,316.5 207.1,316.0 206.6,315.6 206.1,316.2 205.6,315.8 205.1,316.9 204.6,316.0 204.1,315.5 203.6,315.9 203.1,315.9 202.6,315.8 202.1,315.5 201.6,316.0 201.1,316.6 200.6,316.7 200.1,316.8 199.6,315.9 199.1,316.1 198.6,316.5 198.1,316.2 197.6,316.4 197.1,316.0 196.6,316.1 196.1,316.0 195.6,316.1 195.1,315.7 194.6,315.8 194.1,315.7 193.6,316.9 193.1,316.1 192.6,316.4 192.1,316.2 191.6,316.1 191.1,315.9 190.6,316.9 190.1,316.5 189.6,316.7 189.1,315.7 188.6,315.8 188.1,317.1 187.6,317.2 187.1,316.7 186.6,315.8 186.1,316.0 185.6,316.0 185.1,315.9 184.6,316.4 184.1,316.4 183.6,315.8 183.1,315.9 182.6,316.5 182.1,316.4 181.6,315.9 181.1,316.4 180.6,318.0 180.1,316.5 179.6,317.1 179.1,316.3 178.6,316.9 178.1,316.2 177.6,316.3 177.1,317.6 176.6,317.4 176.1,316.8 175.6,316.9 175.1,316.6 174.6,316.5 174.1,317.2 173.6,316.3 173.1,316.3 172.6,316.6 172.1,316.6 171.6,316.7 171.1,317.1 170.6,317.3 170.1,316.7 169.6,316.9 169.1,316.6 168.6,317.0 168.1,316.5 167.6,317.1 167.1,317.1 166.6,316.9 166.1,316.7 165.6,316.4 165.1,316.6 164.6,316.6 164.1,317.3 163.6,316.4 163.1,316.7 162.6,317.3 162.1,316.6 161.6,316.5 161.1,316.4 160.6,316.3 160.1,316.3 159.6,316.9 159.1,316.3 158.6,317.3 158.1,316.5 157.6,316.3 157.1,316.9 156.6,316.5 156.1,317.3 155.6,316.5 155.1,317.4 154.6,317.4 154.1,316.6 153.6,316.3 153.1,316.5 152.6,316.7 152.1,316.0 151.6,316.9 151.1,317.1 150.6,316.3 150.1,317.1 149.6,316.8 149.1,316.2 148.6,317.0 148.1,317.0 147.6,316.2 147.1,316.6 146.6,316.5 146.1,316.2 145.6,316.2 145.1,316.2 144.6,315.7 144.1,316.1 143.6,316.3 143.1,316.2 142.6,315.8 142.1,316.1 141.6,317.2 141.1,316.7 140.6,316.7 140.1,316.4 139.6,315.9 139.1,316.8 138.6,316.3 138.1,317.5 137.6,316.0 137.1,315.9 136.6,316.8 136.1,316.4 135.6,316.0 135.1,316.8 134.6,316.8 134.1,316.3 133.6,316.1 133.1,315.9 132.6,315.9 132.1,316.0 131.6,315.9 131.1,316.0 130.6,316.3 130.1,316.3 129.6,316.3 129.1,315.8 128.6,315.7 128.1,316.2 127.6,315.6 127.1,316.3 126.6,316.7 126.1,316.5 125.6,316.3 125.1,316.0 124.6,315.9 124.1,316.1 123.6,317.1 123.1,316.6 122.6,317.8 122.1,316.0 121.6,316.1 121.1,316.7 120.6,316.3 120.1,316.6 119.6,315.9 119.1,317.0 118.6,316.7 118.1,316.6 117.6,315.9 117.1,316.0 116.6,316.3 116.1,316.2 115.6,316.3 115.1,316.4 114.6,317.0 114.1,316.5 113.6,316.2 113.1,317.1 112.6,316.4 112.1,316.3 111.6,317.5 111.1,316.4 110.6,316.3 110.1,316.8 109.6,316.4 109.1,316.3 108.6,316.5 108.1,316.1 107.6,317.5 107.1,316.7 106.6,317.3 106.1,316.2 105.6,316.6 105.1,316.8 104.6,316.1 104.1,316.4 103.6,316.1 103.1,316.3 102.6,316.5 102.1,316.4 101.6,317.5 101.1,317.4 100.6,316.6 100.1,317.2 99.6,316.9 99.1,316.7 98.6,317.1 98.1,316.3 97.6,316.3 97.1,316.3 96.6,316.4 96.1,316.9 95.6,316.9 95.1,316.6 94.6,316.0 94.1,315.9 93.6,316.5 93.1,316.1 92.6,316.4 92.1,316.4 91.6,318.7"/>
<path d="M92.4,314.6L92.4,325.4M99.0,314.6L99.0,322.9M101.5,314.6L101.5,327.9M104.8,314.6L104.8,322.9M110.6,314.6L110.6,321.2M113.9,314.6L113.9,327.9M117.2,314.6L117.2,322.9M118.9,314.6L118.9,327.0M123.8,314.6L123.8,321.2M126.3,314.6L126.3,326.2M131.3,314.6L131.3,326.2M136.2,314.6L136.2,320.4M138.7,314.6L138.7,320.4M145.3,314.6L145.3,327.0M149.5,314.6L149.5,322.9M152.8,314.6L152.8,322.9M157.7,314.6L157.7,319.6M162.7,314.6L162.7,321.2M167.6,314.6L167.6,322.9M173.4,314.6L173.4,326.2M176.7,314.6L176.7,321.2M185.8,314.6L185.8,322.1M188.3,314.6L188.3,321.2M193.3,314.6L193.3,323.7M198.2,314.6L198.2,330.3M200.7,314.6L200.7,322.9M198.0,314.6L198.0,330.3M201.6,314.6L201.6,322.9M209.9,314.6L209.9,322.9M214.8,314.6L214.8,325.4M229.7,314.6L229.7,326.2M232.2,314.6L232.2,327.9M234.7,314.6L234.7,330.3M238.8,314.6L238.8,322.9M243.8,314.6L243.8,326.2M247.9,314.6L247.9,327.0M250.4,314.6L250.4,331.2M260.3,314.6L260.3,322.9M267.7,314.6L267.7,326.2M274.3,314.6L274.3,327.0M277.6,314.6L277.6,322.9M281.8,314.6L281.8,322.1M290.0,314.6L290.0,324.5M293.3,314.6L293.3,322.9M296.7,314.6L296.7,324.5M109.5,314.6L109.5,322.0M120.9,314.6L120.9,320.5M227.9,314.6L227.9,320.5M152.5,314.6L152.5,320.6M187.2,314.6L187.2,321.3M213.9,314.6L213.9,319.8M232.6,314.6L232.6,322.8M291.5,314.6L291.5,321.5M153.1,314.6L153.1,318.1M181.0,314.6L181.0,323.5M296.2,314.6L296.2,322.0M132.4,314.6L132.4,319.2M124.5,314.6L124.5,320.5M288.4,314.6L288.4,319.2M260.5,314.6L260.5,321.1M147.6,314.6L147.6,320.6M103.7,314.6L103.7,321.6M278.6,314.6L278.6,319.9M292.0,314.6L292.0,319.7M165.3,314.6L165.3,321.9M136.6,314.6L136.6,318.3M195.4,314.6L195.4,320.8M126.0,314.6L126.0,319.1M115.9,314.6L115.9,319.1M123.5,314.6L123.5,321.7M275.8,314.6L275.8,321.4M139.6,314.6L139.6,321.1M289.0,314.6L289.0,320.1M242.6,314.6L242.6,318.1M250.1,314.6L250.1,322.8M204.3,314.6L204.3,323.0M215.3,314.6L215.3,322.4M193.4,314.6L193.4,320.2M148.5,314.6L148.5,321.2M251.3,314.6L251.3,318.3M230.6,314.6L230.6,318.3M225.0,314.6L225.0,322.0M281.2,314.6L281.2,321.7M226.6,314.6L226.6,321.9M231.2,314.6L231.2,321.9M232.7,314.6L232.7,322.8M166.0,314.6L166.0,323.3M132.2,314.6L132.2,318.3M103.2,314.6L103.2,321.1M268.8,314.6L268.8,318.8M274.7,314.6L274.7,320.8M229.1,314.6L229.1,319.0M296.8,314.6L296.8,320.6M142.0,314.6L142.0,321.5M102.0,314.6L102.0,321.7M265.2,314.6L265.2,318.8M144.6,314.6L144.6,319.6M132.7,314.6L132.7,321.5M260.2,314.6L260.2,320.6M235.6,314.6L235.6,323.1M260.9,314.6L260.9,320.2M276.6,314.6L276.6,319.1M261.9,314.6L261.9,318.6M158.4,314.6L158.4,318.7M208.6,314.6L208.6,318.7M217.6,314.6L217.6,319.0M230.9,314.6L230.9,320.8M156.8,314.6L156.8,318.9M248.4,314.6L248.4,319.2M160.9,314.6L160.9,323.2M273.7,314.6L273.7,322.1M223.7,314.6L223.7,322.7M264.6,314.6L264.6,322.7M247.4,314.6L247.4,320.4M248.4,314.6L248.4,320.3M208.5,314.6L208.5,318.2M124.8,314.6L124.8,321.8M110.1,314.6L110.1,318.6M272.5,314.6L272.5,323.0M292.8,314.6L292.8,322.4M154.4,314.6L154.4,321.4M198.8,314.6L198.8,318.6M125.3,314.6L125.3,321.5M179.8,314.6L179.8,321.3M282.3,314.6L282.3,318.5M125.1,314.6L125.1,323.5M116.5,314.6L116.5,320.1M206.5,314.6L206.5,319.6M171.6,314.6L171.6,319.0M259.1,314.6L259.1,319.3M241.1,314.6L241.1,320.6M196.5,314.6L196.5,318.5M274.9,314.6L274.9,318.2M270.9,314.6L270.9,318.2M171.2,314.6L171.2,320.5M218.3,314.6L218.3,319.6M297.7,314.6L297.7,320.0M137.8,314.6L137.8,322.1M227.9,314.6L227.9,321.4M288.8,314.6L288.8,323.0M155.4,314.6L155.4,323.0M276.1,314.6L276.1,318.4M197.9,314.6L197.9,322.9M175.3,314.6L175.3,319.9M192.5,314.6L192.5,322.7M95.1,314.6L95.1,321.7M238.2,314.6L238.2,323.4M225.6,314.6L225.6,319.6M226.3,314.6L226.3,322.1M119.2,314.6L119.2,322.4M216.1,314.6L216.1,321.3M226.1,314.6L226.1,321.5M123.3,314.6L123.3,318.9M93.1,314.6L93.1,319.8M137.5,314.6L137.5,321.4M112.5,314.6L112.5,318.8M199.2,314.6L199.2,322.4M192.2,314.6L192.2,318.4M283.5,314.6L283.5,321.2M280.7,314.6L280.7,322.2M278.7,314.6L278.7,322.6M246.5,314.6L246.5,322.9M231.1,314.6L231.1,323.5M281.3,314.6L281.3,319.0M191.1,314.6L191.1,323.3" stroke="#000" stroke-width="0.7" fill="none" opacity="0.85"/>
<polygon fill="#000" points="310.8,281.8 311.3,281.2 311.8,282.1 312.3,279.9 312.8,282.0 313.3,281.9 313.8,282.1 314.3,280.5 314.8,281.6 315.3,279.8 315.8,281.5 316.3,281.5 316.8,281.3 317.3,281.8 317.8,281.7 318.3,282.1 318.8,281.8 319.3,281.6 319.8,281.7 320.3,281.4 320.8,281.7 321.3,281.2 321.8,281.7 322.3,281.2 322.8,280.3 323.3,280.8 323.8,282.0 324.3,281.1 324.8,281.9 325.3,281.6 325.8,280.7 326.3,281.2 326.8,281.2 327.3,279.9 327.8,280.8 328.3,281.4 328.8,281.1 329.3,281.1 329.8,280.0 330.3,280.4 330.8,280.6 331.3,280.0 331.8,281.5 332.3,281.6 332.8,281.8 333.3,281.6 333.8,280.4 334.3,279.9 334.8,281.3 335.3,280.9 335.8,281.0 336.3,281.1 336.8,281.5 337.3,281.4 337.8,280.8 338.3,281.9 338.8,281.6 339.3,281.5 339.8,282.2 340.3,282.2 340.8,282.2 341.3,280.6 341.8,280.4 342.3,281.7 342.8,281.3 343.3,282.0 343.8,281.9 344.3,281.0 344.8,281.0 345.3,282.2 345.8,282.0 346.3,281.3 346.8,282.1 347.3,281.8 347.8,281.8 348.3,281.9 348.8,281.6 349.3,280.8 349.8,282.2 350.3,282.2 350.8,282.7 351.3,282.2 351.8,282.1 352.3,282.1 352.8,281.1 353.3,282.4 353.8,281.9 354.3,281.1 354.8,282.1 355.3,281.8 355.8,281.4 356.3,281.8 356.8,281.8 357.3,282.3 357.8,282.2 358.3,281.8 358.8,282.4 359.3,282.4 359.8,281.9 360.3,282.0 360.8,281.9 361.3,282.4 361.8,281.1 362.3,282.4 362.8,282.1 363.3,281.4 363.8,280.8 364.3,281.9 364.8,281.8 365.3,282.0 365.8,282.3 366.3,281.6 366.8,282.3 367.3,281.9 367.8,282.1 368.3,281.0 368.8,282.0 369.3,281.0 369.8,280.0 370.3,282.0 370.8,281.3 371.3,280.3 371.8,280.9 372.3,281.4 372.8,280.6 373.3,281.8 373.8,281.4 374.3,281.5 374.8,281.5 375.3,281.4 375.8,282.0 376.3,281.8 376.8,279.4 377.3,281.7 377.8,281.1 378.3,281.3 378.8,281.2 379.3,281.4 379.8,281.9 380.3,280.9 380.8,281.2 381.3,280.8 381.8,282.0 382.3,281.9 382.8,282.2 383.3,280.4 383.8,281.5 384.3,281.7 384.8,281.8 385.3,282.2 385.8,280.3 386.3,282.0 386.8,281.5 387.3,281.7 387.8,281.8 388.3,281.7 388.8,280.8 389.3,282.1 389.8,281.7 390.3,280.8 390.8,281.6 391.3,282.6 391.8,280.6 392.3,281.6 392.8,282.3 393.3,282.0 393.8,282.6 394.3,282.4 394.8,282.0 395.3,282.3 395.8,281.4 396.3,280.9 396.8,281.9 397.3,279.9 397.8,282.6 398.3,281.8 398.8,281.5 399.3,281.3 399.8,282.2 400.3,282.5 400.8,282.4 401.3,281.3 401.8,280.6 402.3,282.3 402.8,282.1 403.3,281.7 403.8,282.4 404.3,282.1 404.8,282.2 405.3,281.5 405.8,282.6 406.3,282.4 406.8,282.0 407.3,281.6 407.8,281.3 408.3,281.3 408.8,281.4 409.3,281.3 409.8,280.9 410.3,281.6 410.8,280.4 411.3,281.2 411.8,281.6 412.3,281.9 412.8,281.2 413.3,282.1 413.8,281.6 414.3,282.2 414.8,281.7 415.3,282.0 415.8,280.7 416.3,282.4 416.8,281.5 417.3,282.0 417.8,281.6 418.3,282.1 418.8,281.7 419.3,280.9 419.8,281.8 420.3,280.4 420.8,280.8 421.3,281.2 421.8,281.5 422.3,281.4 422.8,280.2 423.3,279.9 423.8,281.7 424.3,281.8 424.8,282.0 425.3,281.6 425.8,281.7 426.3,281.8 426.8,279.7 427.3,280.2 427.8,280.8 428.3,281.5 428.8,281.3 429.3,281.6 429.8,280.0 430.3,281.7 430.8,281.2 431.3,281.6 431.8,281.4 432.3,281.1 432.8,280.8 433.3,280.4 433.8,281.7 434.3,280.8 434.8,281.6 435.3,281.2 435.8,281.8 436.3,281.9 436.8,282.2 437.3,282.1 437.8,281.0 438.3,281.1 438.8,280.2 439.3,281.9 439.8,281.4 440.3,281.8 440.8,281.1 441.3,280.9 441.8,280.2 442.3,281.8 442.8,280.5 443.3,281.7 443.8,281.9 444.3,281.1 444.8,281.8 445.3,281.3 445.8,281.6 446.3,281.7 446.8,281.3 447.3,280.8 447.8,281.8 448.3,281.7 448.8,281.6 449.3,280.0 449.8,280.2 450.3,281.4 450.8,281.6 451.3,281.8 451.8,281.5 452.3,281.6 452.8,281.6 453.3,281.0 453.8,281.7 454.3,281.7 454.8,280.8 455.3,281.0 455.8,280.2 456.3,281.2 456.8,281.0 457.3,280.6 457.8,281.1 458.3,281.7 458.8,280.0 459.3,282.2 459.8,281.6 460.3,282.0 460.8,281.3 461.3,281.7 461.8,282.0 462.3,281.7 462.8,281.8 463.3,279.8 463.8,282.2 464.3,281.6 464.8,281.4 465.3,282.4 465.8,281.7 466.3,281.1 466.8,281.7 467.3,282.5 467.8,282.1 468.3,281.1 468.8,282.3 469.3,281.9 469.8,280.5 470.3,282.2 470.8,282.5 471.3,282.6 471.8,282.7 472.3,280.7 472.8,281.5 473.3,280.5 473.8,282.3 474.3,282.0 474.8,281.7 475.3,282.6 475.8,282.5 476.3,282.3 476.8,282.1 477.3,281.4 477.8,281.7 478.3,282.9 478.8,282.8 479.3,282.0 479.8,282.4 480.3,282.7 480.8,281.9 481.3,281.4 481.8,282.3 482.3,281.8 482.8,280.3 483.3,282.5 483.8,281.4 484.3,282.1 484.8,282.7 485.3,282.0 485.8,281.3 486.3,282.8 486.8,282.4 487.3,282.1 487.8,282.3 488.3,282.2 488.8,282.7 489.3,282.0 489.8,282.0 490.3,281.6 490.8,282.7 491.3,280.9 491.8,282.3 492.3,282.5 492.8,282.4 493.3,281.6 493.8,281.1 494.3,281.9 494.8,281.7 495.3,281.0 495.8,281.1 496.3,282.1 496.8,281.7 497.3,282.2 497.8,281.3 498.3,282.0 498.8,281.2 499.3,281.9 499.8,281.9 500.3,281.9 500.8,282.2 501.3,282.1 501.8,281.8 502.3,281.7 502.8,281.7 503.3,281.3 503.8,281.7 504.3,282.2 504.8,281.9 505.3,282.1 505.8,281.4 506.3,281.7 506.8,282.4 507.3,282.4 507.8,281.0 508.3,281.3 508.8,282.2 509.3,282.2 509.8,280.8 510.3,282.1 510.8,281.7 511.3,282.2 511.8,281.4 512.3,281.9 512.8,280.1 513.3,282.8 513.8,282.9 514.3,283.0 514.8,280.4 515.3,282.4 515.8,282.7 516.3,282.5 516.8,282.2 516.8,285.3 516.3,285.4 515.8,286.7 515.3,285.9 514.8,286.4 514.3,285.8 513.8,285.8 513.3,285.6 512.8,287.0 512.3,285.2 511.8,286.4 511.3,285.7 510.8,285.0 510.3,286.0 509.8,284.9 509.3,284.5 508.8,285.3 508.3,285.5 507.8,285.3 507.3,285.1 506.8,284.8 506.3,284.7 505.8,285.5 505.3,285.6 504.8,285.2 504.3,284.9 503.8,285.2 503.3,284.6 502.8,284.7 502.3,284.7 501.8,285.9 501.3,284.6 500.8,285.3 500.3,285.9 499.8,284.9 499.3,285.1 498.8,284.7 498.3,286.4 497.8,284.6 497.3,286.9 496.8,284.8 496.3,284.9 495.8,285.0 495.3,285.1 494.8,284.6 494.3,284.8 493.8,285.3 493.3,285.6 492.8,285.1 492.3,285.0 491.8,287.0 491.3,287.1 490.8,286.0 490.3,285.5 489.8,286.8 489.3,285.2 488.8,285.3 488.3,286.5 487.8,285.6 487.3,285.8 486.8,287.1 486.3,285.8 485.8,286.0 485.3,285.3 484.8,285.4 484.3,286.6 483.8,286.4 483.3,285.5 482.8,285.9 482.3,285.8 481.8,286.2 481.3,285.5 480.8,285.5 480.3,285.8 479.8,285.9 479.3,285.9 478.8,286.4 478.3,285.2 477.8,286.3 477.3,285.0 476.8,285.6 476.3,286.1 475.8,286.4 475.3,285.0 474.8,285.1 474.3,287.0 473.8,286.9 473.3,285.0 472.8,285.4 472.3,285.3 471.8,287.0 471.3,285.4 470.8,285.3 470.3,285.5 469.8,285.1 469.3,286.3 468.8,284.8 468.3,285.0 467.8,285.2 467.3,285.6 466.8,285.4 466.3,286.0 465.8,285.5 465.3,285.3 464.8,285.2 464.3,285.2 463.8,285.5 463.3,285.1 462.8,285.4 462.3,284.9 461.8,285.9 461.3,284.6 460.8,284.5 460.3,284.8 459.8,285.0 459.3,285.1 458.8,284.4 458.3,285.1 457.8,285.6 457.3,284.1 456.8,284.1 456.3,284.6 455.8,284.1 455.3,284.4 454.8,284.9 454.3,284.5 453.8,284.5 453.3,284.0 452.8,284.8 452.3,285.2 451.8,286.5 451.3,284.1 450.8,286.0 450.3,285.0 449.8,284.4 449.3,284.4 448.8,284.9 448.3,285.6 447.8,284.5 447.3,285.6 446.8,284.6 446.3,285.9 445.8,284.9 445.3,285.7 444.8,284.8 444.3,284.5 443.8,284.6 443.3,284.8 442.8,284.6 442.3,285.4 441.8,284.8 441.3,284.3 440.8,285.0 440.3,285.3 439.8,284.7 439.3,284.9 438.8,284.5 438.3,285.0 437.8,285.7 437.3,284.5 436.8,285.1 436.3,284.8 435.8,285.4 435.3,284.8 434.8,284.7 434.3,286.0 433.8,284.9 433.3,285.2 432.8,285.4 432.3,284.2 431.8,285.7 431.3,285.2 430.8,284.8 430.3,284.2 429.8,284.6 429.3,284.0 428.8,284.2 428.3,284.5 427.8,283.9 427.3,284.1 426.8,284.4 426.3,284.2 425.8,285.2 425.3,285.1 424.8,285.6 424.3,285.4 423.8,285.0 423.3,285.3 422.8,285.0 422.3,284.5 421.8,284.8 421.3,284.5 420.8,285.3 420.3,284.8 419.8,285.0 419.3,284.7 418.8,284.4 418.3,284.4 417.8,284.5 417.3,285.2 416.8,285.0 416.3,286.4 415.8,285.0 415.3,285.6 414.8,284.4 414.3,285.2 413.8,284.4 413.3,285.3 412.8,285.0 412.3,284.8 411.8,285.4 411.3,285.6 410.8,285.4 410.3,284.8 409.8,286.6 409.3,285.6 408.8,286.0 408.3,285.5 407.8,286.5 407.3,286.0 406.8,286.3 406.3,285.2 405.8,285.3 405.3,286.6 404.8,286.0 404.3,285.5 403.8,285.0 403.3,285.1 402.8,284.8 402.3,285.6 401.8,286.1 401.3,284.9 400.8,284.8 400.3,285.6 399.8,285.6 399.3,285.5 398.8,285.4 398.3,285.6 397.8,285.1 397.3,285.5 396.8,285.2 396.3,284.9 395.8,284.7 395.3,284.7 394.8,286.6 394.3,287.4 393.8,285.1 393.3,285.5 392.8,287.2 392.3,285.8 391.8,285.9 391.3,285.9 390.8,285.5 390.3,285.5 389.8,284.9 389.3,285.5 388.8,285.1 388.3,286.2 387.8,284.9 387.3,286.0 386.8,286.4 386.3,285.1 385.8,284.8 385.3,284.8 384.8,284.9 384.3,285.0 383.8,285.2 383.3,285.1 382.8,284.9 382.3,285.7 381.8,285.5 381.3,285.2 380.8,286.6 380.3,284.4 379.8,285.3 379.3,284.8 378.8,284.8 378.3,284.7 377.8,284.6 377.3,285.6 376.8,284.8 376.3,284.8 375.8,284.4 375.3,284.8 374.8,285.5 374.3,284.5 373.8,284.1 373.3,284.6 372.8,284.8 372.3,284.8 371.8,284.4 371.3,285.3 370.8,285.1 370.3,285.1 369.8,285.7 369.3,285.3 368.8,285.3 368.3,285.3 367.8,286.0 367.3,284.8 366.8,284.7 366.3,285.8 365.8,285.0 365.3,285.9 364.8,285.1 364.3,284.9 363.8,285.8 363.3,285.0 362.8,285.0 362.3,285.6 361.8,285.3 361.3,285.2 360.8,285.4 360.3,284.6 359.8,284.9 359.3,284.8 358.8,284.7 358.3,285.3 357.8,285.4 357.3,284.9 356.8,285.8 356.3,285.8 355.8,286.0 355.3,284.9 354.8,285.5 354.3,286.3 353.8,284.6 353.3,285.3 352.8,286.5 352.3,286.6 351.8,284.9 351.3,285.3 350.8,285.4 350.3,287.9 349.8,285.9 349.3,287.0 348.8,285.3 348.3,285.6 347.8,284.9 347.3,285.5 346.8,285.3 346.3,285.7 345.8,285.6 345.3,285.9 344.8,285.7 344.3,285.4 343.8,285.0 343.3,284.8 342.8,284.8 342.3,284.7 341.8,285.2 341.3,286.1 340.8,285.4 340.3,285.1 339.8,285.0 339.3,285.9 338.8,284.7 338.3,284.3 337.8,285.3 337.3,284.3 336.8,284.3 336.3,284.1 335.8,284.3 335.3,284.2 334.8,285.4 334.3,283.9 333.8,283.9 333.3,284.3 332.8,284.3 332.3,284.4 331.8,285.5 331.3,283.6 330.8,283.8 330.3,285.5 329.8,283.9 329.3,283.8 328.8,284.5 328.3,284.8 327.8,285.3 327.3,284.2 326.8,285.0 326.3,285.2 325.8,284.0 325.3,284.0 324.8,285.8 324.3,284.4 323.8,285.4 323.3,284.2 322.8,284.4 322.3,284.6 321.8,284.4 321.3,284.4 320.8,284.4 320.3,284.5 319.8,285.1 319.3,284.7 318.8,285.0 318.3,285.5 317.8,286.1 317.3,285.1 316.8,285.3 316.3,284.8 315.8,285.5 315.3,285.2 314.8,284.5 314.3,285.0 313.8,285.5 313.3,285.1 312.8,285.6 312.3,284.5 311.8,285.3 311.3,286.1 310.8,284.9"/>
<path d="M316.2,283.6L316.2,276.0M357.6,283.6L357.6,276.5M369.5,283.6L369.5,278.5M385.2,283.6L385.2,271.1M389.6,283.6L389.6,276.0M404.2,283.6L404.2,272.7M407.2,283.6L407.2,277.7M457.0,283.6L457.0,273.0M461.0,283.6L461.0,273.0M480.8,283.6L480.8,274.0M322.0,283.6L322.0,279.0M431.0,283.6L431.0,278.0M445.0,283.6L445.0,278.0M389.9,283.6L389.9,280.1M365.3,283.6L365.3,279.4M426.7,283.6L426.7,279.5M419.1,283.6L419.1,279.2M441.8,283.6L441.8,280.1M411.3,283.6L411.3,279.4M439.0,283.6L439.0,280.0M345.9,283.6L345.9,279.3M449.1,283.6L449.1,279.1M394.9,283.6L394.9,280.7M322.7,283.6L322.7,280.4M414.0,283.6L414.0,280.6M459.8,283.6L459.8,280.7M499.5,283.6L499.5,280.8M349.1,283.6L349.1,280.9M473.0,283.6L473.0,279.3M452.9,283.6L452.9,280.6M483.0,283.6L483.0,279.7M363.6,283.6L363.6,279.3M467.5,283.6L467.5,280.6M421.1,283.6L421.1,281.1M334.2,283.6L334.2,280.9M478.9,283.6L478.9,280.2M434.8,283.6L434.8,279.3M370.4,283.6L370.4,280.8M365.7,283.6L365.7,279.2M377.9,283.6L377.9,281.0M326.0,283.6L326.0,280.3M493.4,283.6L493.4,280.6M470.7,283.6L470.7,280.4M511.6,283.6L511.6,279.9M360.5,283.6L360.5,280.4M420.6,283.6L420.6,280.3M404.2,283.6L404.2,279.2M319.5,283.6L319.5,280.4M464.2,283.6L464.2,279.3M490.6,283.6L490.6,280.3M385.3,283.6L385.3,279.3M429.3,283.6L429.3,279.2M336.7,283.6L336.7,279.6M460.7,283.6L460.7,279.1M363.0,283.6L363.0,279.9M485.7,283.6L485.7,280.2M337.2,283.6L337.2,279.7M345.6,283.6L345.6,280.8" stroke="#000" stroke-width="0.7" fill="none" opacity="0.75"/>
<polygon fill="#000" points="314.6,312.2 315.1,312.9 315.6,312.9 316.1,311.2 316.6,312.1 317.1,310.7 317.6,312.5 318.1,312.3 318.6,310.2 319.1,309.8 319.6,311.8 320.1,311.7 320.6,312.7 321.1,311.9 321.6,311.1 322.1,312.5 322.6,310.8 323.1,312.7 323.6,312.2 324.1,312.0 324.6,313.1 325.1,311.9 325.6,312.9 326.1,312.7 326.6,311.6 327.1,312.6 327.6,313.0 328.1,312.7 328.6,311.4 329.1,313.8 329.6,313.3 330.1,312.4 330.6,312.1 331.1,312.4 331.6,312.8 332.1,311.8 332.6,312.4 333.1,311.3 333.6,311.6 334.1,313.4 334.6,311.4 335.1,312.6 335.6,312.8 336.1,311.3 336.6,313.2 337.1,311.8 337.6,312.5 338.1,313.9 338.6,312.4 339.1,313.8 339.6,313.1 340.1,313.7 340.6,313.3 341.1,313.1 341.6,312.1 342.1,313.6 342.6,313.7 343.1,313.0 343.6,312.0 344.1,313.2 344.6,312.4 345.1,313.0 345.6,312.2 346.1,312.9 346.6,312.4 347.1,313.2 347.6,311.3 348.1,313.5 348.6,312.3 349.1,312.4 349.6,313.8 350.1,312.7 350.6,312.0 351.1,313.6 351.6,313.0 352.1,312.4 352.6,313.2 353.1,312.8 353.6,312.7 354.1,312.4 354.6,313.5 355.1,311.3 355.6,313.2 356.1,312.1 356.6,313.3 357.1,313.0 357.6,311.3 358.1,311.5 358.6,311.1 359.1,309.6 359.6,312.7 360.1,312.6 360.6,311.9 361.1,311.3 361.6,312.4 362.1,312.3 362.6,312.7 363.1,311.8 363.6,312.7 364.1,311.5 364.6,312.9 365.1,311.2 365.6,310.9 366.1,311.9 366.6,310.3 367.1,310.9 367.6,311.8 368.1,311.1 368.6,311.9 369.1,311.6 369.6,312.0 370.1,312.2 370.6,312.5 371.1,312.6 371.6,311.8 372.1,311.7 372.6,310.9 373.1,312.6 373.6,313.0 374.1,313.2 374.6,311.9 375.1,312.3 375.6,313.3 376.1,312.9 376.6,312.8 377.1,311.6 377.6,312.4 378.1,313.4 378.6,312.5 379.1,313.1 379.6,312.4 380.1,312.9 380.6,310.3 381.1,312.9 381.6,311.8 382.1,313.2 382.6,313.2 383.1,314.1 383.6,313.7 384.1,311.8 384.6,311.3 385.1,312.3 385.6,312.9 386.1,312.9 386.6,314.2 387.1,313.3 387.6,313.2 388.1,313.7 388.6,312.9 389.1,314.4 389.6,313.5 390.1,312.7 390.6,310.8 391.1,313.6 391.6,313.6 392.1,314.1 392.6,313.7 393.1,313.6 393.6,312.9 394.1,312.8 394.6,312.9 395.1,313.7 395.6,312.6 396.1,312.2 396.6,314.0 397.1,313.7 397.6,313.3 398.1,313.3 398.6,312.1 399.1,313.2 399.6,312.1 400.1,313.3 400.6,313.4 401.1,312.7 401.6,311.1 402.1,312.1 402.6,312.4 403.1,313.2 403.6,313.7 404.1,311.0 404.6,312.9 405.1,313.3 405.6,311.6 406.1,313.7 406.6,312.7 407.1,309.9 407.6,311.7 408.1,312.5 408.6,311.0 409.1,312.9 409.6,311.5 410.1,311.5 410.6,313.0 411.1,312.4 411.6,310.9 412.1,312.4 412.6,312.4 413.1,313.0 413.6,312.4 414.1,311.8 414.6,311.5 415.1,311.8 415.6,312.8 416.1,311.3 416.6,312.3 417.1,311.3 417.6,311.3 418.1,312.6 418.6,312.1 419.1,313.0 419.6,310.3 420.1,313.0 420.6,311.3 421.1,310.9 421.6,313.3 422.1,311.8 422.6,310.0 423.1,312.2 423.6,313.2 424.1,312.3 424.6,311.5 425.1,311.4 425.6,313.5 426.1,313.2 426.6,313.2 427.1,311.5 427.6,313.1 428.1,311.1 428.6,313.2 429.1,312.3 429.6,312.4 430.1,313.2 430.6,312.2 431.1,312.5 431.6,312.9 432.1,312.8 432.6,311.6 433.1,311.8 433.6,312.4 434.1,312.8 434.6,312.2 435.1,311.8 435.6,312.5 436.1,313.2 436.6,312.5 437.1,312.8 437.6,312.6 438.1,310.1 438.6,310.5 439.1,312.4 439.6,311.7 440.1,312.4 440.6,312.4 441.1,312.0 441.6,312.1 442.1,309.9 442.6,312.1 443.1,312.1 443.6,311.8 444.1,312.4 444.6,309.8 445.1,312.1 445.6,311.6 446.1,311.9 446.6,312.2 447.1,312.0 447.6,312.5 448.1,311.8 448.6,312.0 449.1,312.0 449.6,312.2 450.1,311.1 450.6,312.2 451.1,311.8 451.6,309.7 452.1,309.7 452.6,310.2 453.1,312.0 453.6,312.0 454.1,312.6 454.6,311.9 455.1,310.7 455.6,312.3 456.1,312.1 456.6,311.5 457.1,310.2 457.6,310.7 458.1,312.2 458.6,311.8 459.1,313.0 459.6,311.1 460.1,313.1 460.6,312.4 461.1,312.0 461.6,313.2 462.1,312.5 462.6,312.3 463.1,312.8 463.6,311.9 464.1,312.3 464.6,313.0 465.1,312.1 465.6,312.1 466.1,311.9 466.6,310.8 467.1,311.0 467.6,312.4 468.1,311.9 468.6,311.6 469.1,310.9 469.6,312.7 470.1,310.7 470.6,312.1 471.1,311.9 471.6,310.5 472.1,311.6 472.6,312.3 473.1,308.5 473.6,309.4 474.1,311.1 474.6,312.2 475.1,312.1 475.6,311.1 476.1,311.1 476.6,309.9 477.1,311.5 477.6,312.4 478.1,312.9 478.6,312.9 479.1,312.2 479.6,312.4 480.1,312.5 480.6,312.1 481.1,313.3 481.6,312.5 482.1,310.7 482.6,312.5 483.1,313.1 483.6,312.8 484.1,311.8 484.6,312.5 485.1,313.6 485.6,312.8 486.1,313.3 486.6,312.7 487.1,313.4 487.6,311.9 488.1,313.3 488.6,313.3 489.1,313.1 489.6,313.0 490.1,313.4 490.6,313.4 491.1,313.3 491.6,311.3 492.1,312.0 492.6,313.3 493.1,312.1 493.6,311.5 494.1,312.8 494.6,311.0 495.1,312.5 495.6,312.7 496.1,312.4 496.6,311.4 497.1,312.7 497.6,311.6 498.1,312.2 498.6,314.1 499.1,312.5 499.6,310.7 500.1,312.0 500.6,310.6 501.1,314.0 501.6,314.1 502.1,314.3 502.6,314.2 503.1,313.9 503.6,313.6 504.1,313.1 504.6,313.2 505.1,313.7 505.6,313.6 506.1,312.2 506.6,311.9 507.1,312.8 507.6,310.6 508.1,312.6 508.6,313.4 509.1,311.2 509.6,311.7 510.1,312.4 510.6,312.7 511.1,313.8 511.6,313.5 512.1,312.4 512.6,313.5 513.1,312.4 513.6,313.2 514.1,311.7 514.6,313.4 515.1,313.2 515.6,312.4 516.1,313.2 516.6,312.9 517.1,313.0 517.6,311.7 518.1,312.6 518.6,312.3 519.1,312.7 519.6,312.5 520.1,312.3 520.6,312.9 520.6,318.7 520.1,317.8 519.6,318.1 519.1,318.2 518.6,319.7 518.1,320.3 517.6,318.4 517.1,318.5 516.6,318.5 516.1,318.4 515.6,318.5 515.1,317.4 514.6,317.8 514.1,317.5 513.6,318.8 513.1,317.5 512.6,318.0 512.1,319.5 511.6,318.5 511.1,321.1 510.6,317.9 510.1,319.0 509.6,318.6 509.1,319.0 508.6,317.9 508.1,318.1 507.6,317.8 507.1,317.8 506.6,317.9 506.1,319.5 505.6,319.7 505.1,318.3 504.6,320.4 504.1,319.4 503.6,318.5 503.1,318.5 502.6,318.4 502.1,318.6 501.6,319.0 501.1,319.2 500.6,318.6 500.1,320.1 499.6,317.8 499.1,318.3 498.6,318.6 498.1,319.1 497.6,317.8 497.1,318.3 496.6,319.1 496.1,318.3 495.6,318.0 495.1,318.6 494.6,317.8 494.1,318.8 493.6,318.6 493.1,318.8 492.6,319.0 492.1,318.0 491.6,319.4 491.1,318.4 490.6,318.1 490.1,317.6 489.6,318.0 489.1,318.8 488.6,319.2 488.1,318.3 487.6,318.3 487.1,320.2 486.6,319.7 486.1,319.4 485.6,318.7 485.1,319.4 484.6,319.3 484.1,318.1 483.6,319.0 483.1,318.2 482.6,317.9 482.1,317.5 481.6,318.0 481.1,318.4 480.6,318.4 480.1,317.9 479.6,317.8 479.1,317.2 478.6,319.2 478.1,318.9 477.6,318.1 477.1,318.0 476.6,317.2 476.1,317.4 475.6,317.6 475.1,317.5 474.6,316.8 474.1,317.2 473.6,317.8 473.1,319.0 472.6,319.0 472.1,317.5 471.6,317.6 471.1,317.4 470.6,317.0 470.1,317.7 469.6,319.1 469.1,317.4 468.6,317.2 468.1,317.3 467.6,316.9 467.1,316.7 466.6,318.5 466.1,318.9 465.6,320.1 465.1,318.1 464.6,317.8 464.1,317.5 463.6,319.1 463.1,318.5 462.6,318.3 462.1,318.2 461.6,320.4 461.1,317.9 460.6,318.5 460.1,318.2 459.6,317.4 459.1,318.4 458.6,317.5 458.1,316.5 457.6,317.3 457.1,319.2 456.6,317.4 456.1,318.1 455.6,317.4 455.1,318.3 454.6,317.2 454.1,318.9 453.6,317.0 453.1,316.4 452.6,318.2 452.1,317.4 451.6,317.8 451.1,316.5 450.6,318.0 450.1,317.1 449.6,318.6 449.1,318.1 448.6,319.0 448.1,317.6 447.6,317.4 447.1,317.5 446.6,317.4 446.1,317.0 445.6,317.3 445.1,318.9 444.6,317.3 444.1,317.8 443.6,317.5 443.1,316.7 442.6,318.2 442.1,317.0 441.6,316.6 441.1,316.6 440.6,317.3 440.1,317.8 439.6,318.2 439.1,317.1 438.6,316.8 438.1,317.7 437.6,321.3 437.1,317.0 436.6,318.6 436.1,319.3 435.6,318.9 435.1,317.3 434.6,318.9 434.1,317.6 433.6,318.2 433.1,317.6 432.6,317.2 432.1,318.3 431.6,317.9 431.1,317.1 430.6,317.7 430.1,318.1 429.6,318.5 429.1,317.8 428.6,317.7 428.1,317.9 427.6,318.1 427.1,318.0 426.6,318.0 426.1,319.3 425.6,318.3 425.1,320.0 424.6,319.1 424.1,320.1 423.6,318.5 423.1,318.7 422.6,319.7 422.1,317.6 421.6,318.5 421.1,318.2 420.6,317.4 420.1,318.1 419.6,317.2 419.1,317.7 418.6,317.8 418.1,317.9 417.6,319.9 417.1,321.2 416.6,317.8 416.1,317.1 415.6,317.4 415.1,317.3 414.6,317.3 414.1,318.9 413.6,318.5 413.1,317.8 412.6,319.3 412.1,319.0 411.6,318.5 411.1,319.3 410.6,317.3 410.1,320.8 409.6,317.7 409.1,317.5 408.6,318.7 408.1,318.8 407.6,318.8 407.1,318.4 406.6,318.0 406.1,318.5 405.6,318.5 405.1,319.6 404.6,317.7 404.1,317.9 403.6,318.8 403.1,319.0 402.6,319.5 402.1,318.0 401.6,317.6 401.1,317.9 400.6,318.0 400.1,320.7 399.6,318.2 399.1,319.6 398.6,318.4 398.1,318.7 397.6,320.3 397.1,318.5 396.6,319.1 396.1,318.8 395.6,318.4 395.1,318.4 394.6,319.0 394.1,319.5 393.6,319.2 393.1,318.0 392.6,318.6 392.1,320.4 391.6,319.1 391.1,320.8 390.6,320.1 390.1,319.0 389.6,319.5 389.1,318.7 388.6,318.8 388.1,320.3 387.6,320.5 387.1,320.0 386.6,319.7 386.1,320.3 385.6,318.6 385.1,319.7 384.6,318.6 384.1,318.4 383.6,319.5 383.1,318.3 382.6,318.8 382.1,318.1 381.6,318.4 381.1,318.9 380.6,319.6 380.1,318.4 379.6,318.5 379.1,319.1 378.6,317.8 378.1,318.5 377.6,319.2 377.1,318.6 376.6,318.3 376.1,318.8 375.6,317.6 375.1,318.3 374.6,317.1 374.1,317.2 373.6,319.1 373.1,317.4 372.6,318.9 372.1,318.3 371.6,317.4 371.1,317.1 370.6,318.2 370.1,319.9 369.6,318.6 369.1,317.7 368.6,317.9 368.1,317.0 367.6,317.3 367.1,317.4 366.6,317.8 366.1,317.9 365.6,317.3 365.1,319.8 364.6,317.4 364.1,317.6 363.6,317.9 363.1,317.6 362.6,317.4 362.1,318.0 361.6,316.7 361.1,317.5 360.6,317.4 360.1,317.8 359.6,319.7 359.1,318.6 358.6,318.7 358.1,318.1 357.6,318.6 357.1,317.9 356.6,319.4 356.1,318.4 355.6,317.7 355.1,318.5 354.6,319.8 354.1,317.8 353.6,317.4 353.1,317.5 352.6,317.9 352.1,319.0 351.6,318.9 351.1,317.7 350.6,318.7 350.1,319.4 349.6,318.2 349.1,318.2 348.6,318.7 348.1,318.0 347.6,319.5 347.1,318.5 346.6,318.5 346.1,319.3 345.6,318.6 345.1,318.1 344.6,319.2 344.1,318.2 343.6,319.2 343.1,318.0 342.6,320.2 342.1,318.4 341.6,317.9 341.1,319.5 340.6,319.0 340.1,318.6 339.6,319.9 339.1,318.1 338.6,318.0 338.1,318.1 337.6,318.1 337.1,318.3 336.6,318.4 336.1,319.2 335.6,320.7 335.1,318.8 334.6,317.8 334.1,318.9 333.6,318.1 333.1,318.1 332.6,317.9 332.1,319.8 331.6,318.7 331.1,317.7 330.6,320.3 330.1,317.5 329.6,318.9 329.1,318.3 328.6,318.1 328.1,318.0 327.6,317.4 327.1,318.9 326.6,318.2 326.1,317.7 325.6,317.6 325.1,319.3 324.6,317.4 324.1,318.3 323.6,319.2 323.1,317.3 322.6,318.1 322.1,318.0 321.6,318.1 321.1,317.5 320.6,317.3 320.1,319.0 319.6,316.8 319.1,317.1 318.6,317.9 318.1,317.1 317.6,317.4 317.1,318.0 316.6,317.5 316.1,317.3 315.6,317.9 315.1,317.3 314.6,317.6"/>
<path d="M334.8,315.2L334.8,306.6M343.3,315.2L343.3,309.1M360.4,315.2L360.4,308.3M380.2,315.2L380.2,308.8M397.6,315.2L397.6,309.6M404.2,315.2L404.2,310.0M458.1,315.2L458.1,308.8M490.3,315.2L490.3,311.1M385.5,315.2L385.5,311.1M366.4,315.2L366.4,309.9M416.2,315.2L416.2,309.3M492.8,315.2L492.8,309.7M411.9,315.2L411.9,311.0M362.6,315.2L362.6,308.9M508.9,315.2L508.9,309.1M479.3,315.2L479.3,309.3M343.4,315.2L343.4,310.0M316.8,315.2L316.8,309.2M477.3,315.2L477.3,309.1M445.3,315.2L445.3,310.5M400.4,315.2L400.4,311.2M368.8,315.2L368.8,309.4M405.4,315.2L405.4,310.8M488.8,315.2L488.8,310.1M410.2,315.2L410.2,310.8M400.8,315.2L400.8,308.7M396.8,315.2L396.8,310.8M498.9,315.2L498.9,309.4M324.5,315.2L324.5,311.1M380.8,315.2L380.8,310.2M480.6,315.2L480.6,311.1M465.1,315.2L465.1,310.1M359.2,315.2L359.2,310.9M409.3,315.2L409.3,310.8M325.4,315.2L325.4,308.7M465.2,315.2L465.2,309.5M473.8,315.2L473.8,310.9M472.3,315.2L472.3,310.6M428.7,315.2L428.7,310.0M336.5,315.2L336.5,308.9M485.3,315.2L485.3,309.5M415.2,315.2L415.2,310.9M342.1,315.2L342.1,311.1M489.2,315.2L489.2,308.8M465.7,315.2L465.7,310.6M486.7,315.2L486.7,308.7M325.9,315.2L325.9,309.7M353.1,315.2L353.1,310.0M338.6,315.2L338.6,309.6M459.5,315.2L459.5,309.5M399.0,315.2L399.0,309.9" stroke="#000" stroke-width="0.7" fill="none" opacity="0.75"/>
<rect x="64.30" y="436.50" width="39.70" height="62.50" fill="#000" stroke="#333" stroke-width="0.5"/>
<rect x="113.40" y="405.40" width="39.40" height="93.60" fill="#a8151c" stroke="#5a1010" stroke-width="0.5"/>
<line x1="84.30" y1="425.60" x2="84.30" y2="436.50" stroke="#8a8a8a" stroke-width="0.7" />
<line x1="83.10" y1="425.60" x2="85.50" y2="425.60" stroke="#8a8a8a" stroke-width="0.7" />
<line x1="133.40" y1="398.10" x2="133.40" y2="405.40" stroke="#8a8a8a" stroke-width="0.7" />
<line x1="132.20" y1="398.10" x2="134.60" y2="398.10" stroke="#8a8a8a" stroke-width="0.7" />
<line x1="55.60" y1="391.20" x2="55.60" y2="499.40" stroke="#4a4a4a" stroke-width="0.75" />
<line x1="55.20" y1="499.00" x2="159.60" y2="499.00" stroke="#6a6a6a" stroke-width="0.75" />
<line x1="53.70" y1="399.10" x2="55.60" y2="399.10" stroke="#666" stroke-width="0.6" />
<text x="52.20" y="401.19" font-size="7.2" text-anchor="end" textLength="9.21" lengthAdjust="spacingAndGlyphs" stroke="#000" stroke-width="0.12">3,0</text>
<line x1="53.70" y1="415.77" x2="55.60" y2="415.77" stroke="#666" stroke-width="0.6" />
<text x="52.20" y="417.86" font-size="7.2" text-anchor="end" textLength="9.21" lengthAdjust="spacingAndGlyphs" stroke="#000" stroke-width="0.12">2,5</text>
<line x1="53.70" y1="432.44" x2="55.60" y2="432.44" stroke="#666" stroke-width="0.6" />
<text x="52.20" y="434.53" font-size="7.2" text-anchor="end" textLength="9.21" lengthAdjust="spacingAndGlyphs" stroke="#000" stroke-width="0.12">2,0</text>
<line x1="53.70" y1="449.11" x2="55.60" y2="449.11" stroke="#666" stroke-width="0.6" />
<text x="52.20" y="451.20" font-size="7.2" text-anchor="end" textLength="9.21" lengthAdjust="spacingAndGlyphs" stroke="#000" stroke-width="0.12">1,5</text>
<line x1="53.70" y1="465.78" x2="55.60" y2="465.78" stroke="#666" stroke-width="0.6" />
<text x="52.20" y="467.87" font-size="7.2" text-anchor="end" textLength="9.21" lengthAdjust="spacingAndGlyphs" stroke="#000" stroke-width="0.12">1,0</text>
<line x1="53.70" y1="482.45" x2="55.60" y2="482.45" stroke="#666" stroke-width="0.6" />
<text x="52.20" y="484.54" font-size="7.2" text-anchor="end" textLength="9.21" lengthAdjust="spacingAndGlyphs" stroke="#000" stroke-width="0.12">0,5</text>
<line x1="53.70" y1="499.12" x2="55.60" y2="499.12" stroke="#666" stroke-width="0.6" />
<text x="52.20" y="501.21" font-size="7.2" text-anchor="end" textLength="9.21" lengthAdjust="spacingAndGlyphs" stroke="#000" stroke-width="0.12">0,0</text>
<line x1="54.40" y1="407.44" x2="55.60" y2="407.44" stroke="#777" stroke-width="0.6" />
<line x1="54.40" y1="424.11" x2="55.60" y2="424.11" stroke="#777" stroke-width="0.6" />
<line x1="54.40" y1="440.78" x2="55.60" y2="440.78" stroke="#777" stroke-width="0.6" />
<line x1="54.40" y1="457.45" x2="55.60" y2="457.45" stroke="#777" stroke-width="0.6" />
<line x1="54.40" y1="474.12" x2="55.60" y2="474.12" stroke="#777" stroke-width="0.6" />
<line x1="54.40" y1="490.79" x2="55.60" y2="490.79" stroke="#777" stroke-width="0.6" />
<line x1="84.15" y1="499.00" x2="84.15" y2="500.80" stroke="#777" stroke-width="0.6" />
<line x1="133.10" y1="499.00" x2="133.10" y2="500.80" stroke="#777" stroke-width="0.6" />
<text x="133.30" y="398.60" font-size="20.5" text-anchor="middle" font-weight="bold" >*</text>
<text x="64.80" y="518.50" font-size="17" font-style="italic" stroke="#000" stroke-width="0.18" textLength="31.90" lengthAdjust="spacingAndGlyphs">Oxtr</text>
<text x="95.70" y="513.80" font-size="9.50" font-style="italic" stroke="#000" stroke-width="0.18" textLength="13.00" lengthAdjust="spacingAndGlyphs">+/+</text>
<text x="115.40" y="518.50" font-size="17" font-style="italic" stroke="#000" stroke-width="0.18" textLength="31.90" lengthAdjust="spacingAndGlyphs">Oxtr</text>
<text x="146.70" y="513.80" font-size="9.50" font-style="italic" stroke="#000" stroke-width="0.18" textLength="7.60" lengthAdjust="spacingAndGlyphs">-/-</text>
<text x="0" y="0" font-size="14" textLength="130.90" lengthAdjust="spacingAndGlyphs" stroke="#000" stroke-width="0.18" transform="translate(35.00 509.60) rotate(-90)">mEPSCs Frequency (Hz)</text>
<rect x="66.80" y="586.80" width="40.40" height="93.50" fill="#000" stroke="#333" stroke-width="0.5"/>
<rect x="116.70" y="602.00" width="40.40" height="78.30" fill="#a8151c" stroke="#5a1010" stroke-width="0.5"/>
<line x1="87.30" y1="570.10" x2="87.30" y2="586.80" stroke="#8a8a8a" stroke-width="0.7" />
<line x1="86.10" y1="570.10" x2="88.50" y2="570.10" stroke="#8a8a8a" stroke-width="0.7" />
<line x1="136.60" y1="593.10" x2="136.60" y2="602.00" stroke="#8a8a8a" stroke-width="0.7" />
<line x1="135.40" y1="593.10" x2="137.80" y2="593.10" stroke="#8a8a8a" stroke-width="0.7" />
<line x1="58.00" y1="562.70" x2="58.00" y2="680.70" stroke="#4a4a4a" stroke-width="0.75" />
<line x1="57.60" y1="680.30" x2="162.80" y2="680.30" stroke="#6a6a6a" stroke-width="0.75" />
<line x1="56.10" y1="575.10" x2="58.00" y2="575.10" stroke="#666" stroke-width="0.6" />
<text x="54.60" y="577.37" font-size="7.7" text-anchor="end" textLength="9.85" lengthAdjust="spacingAndGlyphs" stroke="#000" stroke-width="0.12">1,6</text>
<line x1="56.10" y1="601.40" x2="58.00" y2="601.40" stroke="#666" stroke-width="0.6" />
<text x="54.60" y="603.67" font-size="7.7" text-anchor="end" textLength="9.85" lengthAdjust="spacingAndGlyphs" stroke="#000" stroke-width="0.12">1,2</text>
<line x1="56.10" y1="627.70" x2="58.00" y2="627.70" stroke="#666" stroke-width="0.6" />
<text x="54.60" y="629.97" font-size="7.7" text-anchor="end" textLength="9.85" lengthAdjust="spacingAndGlyphs" stroke="#000" stroke-width="0.12">0,8</text>
<line x1="56.10" y1="654.00" x2="58.00" y2="654.00" stroke="#666" stroke-width="0.6" />
<text x="54.60" y="656.27" font-size="7.7" text-anchor="end" textLength="9.85" lengthAdjust="spacingAndGlyphs" stroke="#000" stroke-width="0.12">0,4</text>
<line x1="56.10" y1="680.30" x2="58.00" y2="680.30" stroke="#666" stroke-width="0.6" />
<text x="54.60" y="682.57" font-size="7.7" text-anchor="end" textLength="9.85" lengthAdjust="spacingAndGlyphs" stroke="#000" stroke-width="0.12">0,0</text>
<line x1="56.80" y1="588.25" x2="58.00" y2="588.25" stroke="#777" stroke-width="0.6" />
<line x1="56.80" y1="614.55" x2="58.00" y2="614.55" stroke="#777" stroke-width="0.6" />
<line x1="56.80" y1="640.85" x2="58.00" y2="640.85" stroke="#777" stroke-width="0.6" />
<line x1="56.80" y1="667.15" x2="58.00" y2="667.15" stroke="#777" stroke-width="0.6" />
<line x1="87.00" y1="680.30" x2="87.00" y2="682.10" stroke="#777" stroke-width="0.6" />
<line x1="136.90" y1="680.30" x2="136.90" y2="682.10" stroke="#777" stroke-width="0.6" />
<text x="135.50" y="583.70" font-size="16.6" text-anchor="middle" textLength="17.40" lengthAdjust="spacingAndGlyphs"  stroke="#000" stroke-width="0.18">ns</text>
<text x="67.80" y="698.50" font-size="17" font-style="italic" stroke="#000" stroke-width="0.18" textLength="31.90" lengthAdjust="spacingAndGlyphs">Oxtr</text>
<text x="98.70" y="693.80" font-size="9.50" font-style="italic" stroke="#000" stroke-width="0.18" textLength="13.00" lengthAdjust="spacingAndGlyphs">+/+</text>
<text x="117.70" y="698.50" font-size="17" font-style="italic" stroke="#000" stroke-width="0.18" textLength="31.90" lengthAdjust="spacingAndGlyphs">Oxtr</text>
<text x="149.00" y="693.80" font-size="9.50" font-style="italic" stroke="#000" stroke-width="0.18" textLength="7.60" lengthAdjust="spacingAndGlyphs">-/-</text>
<text x="0" y="0" font-size="14" textLength="133.30" lengthAdjust="spacingAndGlyphs" stroke="#000" stroke-width="0.18" transform="translate(35.00 689.00) rotate(-90)">mIPSCs Frequency (Hz)</text>
<rect x="413.60" y="439.80" width="34.10" height="59.00" fill="#000" stroke="#333" stroke-width="0.5"/>
<rect x="456.50" y="422.80" width="34.40" height="76.00" fill="#a8151c" stroke="#5a1010" stroke-width="0.5"/>
<line x1="430.30" y1="429.00" x2="430.30" y2="439.80" stroke="#8a8a8a" stroke-width="0.7" />
<line x1="429.10" y1="429.00" x2="431.50" y2="429.00" stroke="#8a8a8a" stroke-width="0.7" />
<line x1="473.40" y1="414.30" x2="473.40" y2="422.80" stroke="#8a8a8a" stroke-width="0.7" />
<line x1="472.20" y1="414.30" x2="474.60" y2="414.30" stroke="#8a8a8a" stroke-width="0.7" />
<line x1="402.40" y1="404.10" x2="402.40" y2="499.20" stroke="#4a4a4a" stroke-width="0.75" />
<line x1="402.00" y1="498.80" x2="496.60" y2="498.80" stroke="#6a6a6a" stroke-width="0.75" />
<line x1="400.50" y1="413.10" x2="402.40" y2="413.10" stroke="#666" stroke-width="0.6" />
<text x="399.00" y="414.94" font-size="6.5" text-anchor="end" textLength="9.97" lengthAdjust="spacingAndGlyphs" stroke="#000" stroke-width="0.12">100</text>
<line x1="400.50" y1="430.20" x2="402.40" y2="430.20" stroke="#666" stroke-width="0.6" />
<text x="399.00" y="432.04" font-size="6.5" text-anchor="end" textLength="6.65" lengthAdjust="spacingAndGlyphs" stroke="#000" stroke-width="0.12">80</text>
<line x1="400.50" y1="447.30" x2="402.40" y2="447.30" stroke="#666" stroke-width="0.6" />
<text x="399.00" y="449.14" font-size="6.5" text-anchor="end" textLength="6.65" lengthAdjust="spacingAndGlyphs" stroke="#000" stroke-width="0.12">60</text>
<line x1="400.50" y1="464.40" x2="402.40" y2="464.40" stroke="#666" stroke-width="0.6" />
<text x="399.00" y="466.24" font-size="6.5" text-anchor="end" textLength="6.65" lengthAdjust="spacingAndGlyphs" stroke="#000" stroke-width="0.12">40</text>
<line x1="400.50" y1="481.50" x2="402.40" y2="481.50" stroke="#666" stroke-width="0.6" />
<text x="399.00" y="483.34" font-size="6.5" text-anchor="end" textLength="6.65" lengthAdjust="spacingAndGlyphs" stroke="#000" stroke-width="0.12">20</text>
<line x1="400.50" y1="498.60" x2="402.40" y2="498.60" stroke="#666" stroke-width="0.6" />
<text x="399.00" y="500.44" font-size="6.5" text-anchor="end" textLength="3.32" lengthAdjust="spacingAndGlyphs" stroke="#000" stroke-width="0.12">0</text>
<line x1="401.20" y1="421.65" x2="402.40" y2="421.65" stroke="#777" stroke-width="0.6" />
<line x1="401.20" y1="438.75" x2="402.40" y2="438.75" stroke="#777" stroke-width="0.6" />
<line x1="401.20" y1="455.85" x2="402.40" y2="455.85" stroke="#777" stroke-width="0.6" />
<line x1="401.20" y1="472.95" x2="402.40" y2="472.95" stroke="#777" stroke-width="0.6" />
<line x1="401.20" y1="490.05" x2="402.40" y2="490.05" stroke="#777" stroke-width="0.6" />
<line x1="430.65" y1="498.80" x2="430.65" y2="500.60" stroke="#777" stroke-width="0.6" />
<line x1="473.70" y1="498.80" x2="473.70" y2="500.60" stroke="#777" stroke-width="0.6" />
<text x="471.80" y="404.50" font-size="16.6" text-anchor="middle" textLength="17.40" lengthAdjust="spacingAndGlyphs"  stroke="#000" stroke-width="0.18">ns</text>
<text x="410.70" y="517.10" font-size="17" font-style="italic" stroke="#000" stroke-width="0.18" textLength="32.30" lengthAdjust="spacingAndGlyphs">Oxtr</text>
<text x="442.00" y="512.40" font-size="9.50" font-style="italic" stroke="#000" stroke-width="0.18" textLength="13.00" lengthAdjust="spacingAndGlyphs">+/+</text>
<text x="454.40" y="517.10" font-size="17" font-style="italic" stroke="#000" stroke-width="0.18" textLength="32.60" lengthAdjust="spacingAndGlyphs">Oxtr</text>
<text x="486.40" y="512.40" font-size="9.50" font-style="italic" stroke="#000" stroke-width="0.18" textLength="7.60" lengthAdjust="spacingAndGlyphs">-/-</text>
<text x="0" y="0" font-size="14" textLength="114.70" lengthAdjust="spacingAndGlyphs" stroke="#000" stroke-width="0.18" transform="translate(383.20 508.30) rotate(-90)">Quantal Charge (pC)</text>
<rect x="411.10" y="603.80" width="36.10" height="76.60" fill="#000" stroke="#333" stroke-width="0.5"/>
<rect x="456.00" y="640.90" width="36.10" height="39.50" fill="#a8151c" stroke="#5a1010" stroke-width="0.5"/>
<line x1="429.30" y1="588.80" x2="429.30" y2="603.80" stroke="#8a8a8a" stroke-width="0.7" />
<line x1="428.10" y1="588.80" x2="430.50" y2="588.80" stroke="#8a8a8a" stroke-width="0.7" />
<line x1="473.90" y1="635.00" x2="473.90" y2="640.90" stroke="#8a8a8a" stroke-width="0.7" />
<line x1="472.70" y1="635.00" x2="475.10" y2="635.00" stroke="#8a8a8a" stroke-width="0.7" />
<line x1="403.60" y1="577.60" x2="403.60" y2="680.80" stroke="#4a4a4a" stroke-width="0.75" />
<line x1="403.20" y1="680.40" x2="499.10" y2="680.40" stroke="#6a6a6a" stroke-width="0.75" />
<line x1="401.70" y1="586.80" x2="403.60" y2="586.80" stroke="#666" stroke-width="0.6" />
<text x="400.20" y="588.82" font-size="7.0" text-anchor="end" textLength="10.74" lengthAdjust="spacingAndGlyphs" stroke="#000" stroke-width="0.12">250</text>
<line x1="401.70" y1="605.50" x2="403.60" y2="605.50" stroke="#666" stroke-width="0.6" />
<text x="400.20" y="607.52" font-size="7.0" text-anchor="end" textLength="10.74" lengthAdjust="spacingAndGlyphs" stroke="#000" stroke-width="0.12">200</text>
<line x1="401.70" y1="624.20" x2="403.60" y2="624.20" stroke="#666" stroke-width="0.6" />
<text x="400.20" y="626.22" font-size="7.0" text-anchor="end" textLength="10.74" lengthAdjust="spacingAndGlyphs" stroke="#000" stroke-width="0.12">150</text>
<line x1="401.70" y1="642.90" x2="403.60" y2="642.90" stroke="#666" stroke-width="0.6" />
<text x="400.20" y="644.92" font-size="7.0" text-anchor="end" textLength="10.74" lengthAdjust="spacingAndGlyphs" stroke="#000" stroke-width="0.12">100</text>
<line x1="401.70" y1="661.60" x2="403.60" y2="661.60" stroke="#666" stroke-width="0.6" />
<text x="400.20" y="663.62" font-size="7.0" text-anchor="end" textLength="7.16" lengthAdjust="spacingAndGlyphs" stroke="#000" stroke-width="0.12">50</text>
<line x1="401.70" y1="680.30" x2="403.60" y2="680.30" stroke="#666" stroke-width="0.6" />
<text x="400.20" y="682.32" font-size="7.0" text-anchor="end" textLength="3.58" lengthAdjust="spacingAndGlyphs" stroke="#000" stroke-width="0.12">0</text>
<line x1="402.40" y1="596.15" x2="403.60" y2="596.15" stroke="#777" stroke-width="0.6" />
<line x1="402.40" y1="614.85" x2="403.60" y2="614.85" stroke="#777" stroke-width="0.6" />
<line x1="402.40" y1="633.55" x2="403.60" y2="633.55" stroke="#777" stroke-width="0.6" />
<line x1="402.40" y1="652.25" x2="403.60" y2="652.25" stroke="#777" stroke-width="0.6" />
<line x1="402.40" y1="670.95" x2="403.60" y2="670.95" stroke="#777" stroke-width="0.6" />
<line x1="429.15" y1="680.40" x2="429.15" y2="682.20" stroke="#777" stroke-width="0.6" />
<line x1="474.05" y1="680.40" x2="474.05" y2="682.20" stroke="#777" stroke-width="0.6" />
<text x="475.30" y="632.20" font-size="20.5" text-anchor="middle" font-weight="bold" textLength="16.80" lengthAdjust="spacingAndGlyphs" >**</text>
<text x="409.70" y="698.10" font-size="17" font-style="italic" stroke="#000" stroke-width="0.18" textLength="32.50" lengthAdjust="spacingAndGlyphs">Oxtr</text>
<text x="441.20" y="693.40" font-size="9.50" font-style="italic" stroke="#000" stroke-width="0.18" textLength="13.00" lengthAdjust="spacingAndGlyphs">+/+</text>
<text x="453.40" y="698.10" font-size="17" font-style="italic" stroke="#000" stroke-width="0.18" textLength="32.80" lengthAdjust="spacingAndGlyphs">Oxtr</text>
<text x="485.60" y="693.40" font-size="9.50" font-style="italic" stroke="#000" stroke-width="0.18" textLength="7.60" lengthAdjust="spacingAndGlyphs">-/-</text>
<text x="0" y="0" font-size="14" textLength="119.70" lengthAdjust="spacingAndGlyphs" stroke="#000" stroke-width="0.18" transform="translate(382.90 689.10) rotate(-90)">Quantal Charge (pC)</text>
<rect x="565.50" y="613.60" width="56.50" height="63.30" fill="#000" stroke="#222" stroke-width="0.5"/>
<rect x="635.40" y="540.30" width="57.10" height="136.60" fill="#a8151c" stroke="#5a1010" stroke-width="0.6"/>
<line x1="593.70" y1="597.00" x2="593.70" y2="613.60" stroke="#666" stroke-width="0.8" />
<line x1="592.20" y1="597.00" x2="595.20" y2="597.00" stroke="#666" stroke-width="0.8" />
<line x1="663.60" y1="526.20" x2="663.60" y2="540.30" stroke="#666" stroke-width="0.8" />
<line x1="662.10" y1="526.20" x2="665.10" y2="526.20" stroke="#666" stroke-width="0.8" />
<line x1="552.40" y1="511.80" x2="552.40" y2="676.90" stroke="#222" stroke-width="1" />
<line x1="552.40" y1="676.90" x2="700.30" y2="676.90" stroke="#222" stroke-width="1" />
<line x1="711.00" y1="676.90" x2="712.00" y2="676.90" stroke="#555" stroke-width="1" />
<line x1="549.40" y1="512.10" x2="552.40" y2="512.10" stroke="#222" stroke-width="0.9" />
<text x="547.80" y="515.90" font-size="10.8" text-anchor="end"  stroke="#000" stroke-width="0.18">3,5</text>
<line x1="549.40" y1="535.64" x2="552.40" y2="535.64" stroke="#222" stroke-width="0.9" />
<text x="547.80" y="539.44" font-size="10.8" text-anchor="end"  stroke="#000" stroke-width="0.18">3,0</text>
<line x1="549.40" y1="559.19" x2="552.40" y2="559.19" stroke="#222" stroke-width="0.9" />
<text x="547.80" y="562.99" font-size="10.8" text-anchor="end"  stroke="#000" stroke-width="0.18">2,5</text>
<line x1="549.40" y1="582.73" x2="552.40" y2="582.73" stroke="#222" stroke-width="0.9" />
<text x="547.80" y="586.53" font-size="10.8" text-anchor="end"  stroke="#000" stroke-width="0.18">2,0</text>
<line x1="549.40" y1="606.27" x2="552.40" y2="606.27" stroke="#222" stroke-width="0.9" />
<text x="547.80" y="610.07" font-size="10.8" text-anchor="end"  stroke="#000" stroke-width="0.18">1,5</text>
<line x1="549.40" y1="629.81" x2="552.40" y2="629.81" stroke="#222" stroke-width="0.9" />
<text x="547.80" y="633.61" font-size="10.8" text-anchor="end"  stroke="#000" stroke-width="0.18">1,0</text>
<line x1="549.40" y1="653.36" x2="552.40" y2="653.36" stroke="#222" stroke-width="0.9" />
<text x="547.80" y="657.16" font-size="10.8" text-anchor="end"  stroke="#000" stroke-width="0.18">0,5</text>
<line x1="549.40" y1="676.90" x2="552.40" y2="676.90" stroke="#222" stroke-width="0.9" />
<text x="547.80" y="680.70" font-size="10.8" text-anchor="end"  stroke="#000" stroke-width="0.18">0,0</text>
<line x1="593.70" y1="676.90" x2="593.70" y2="679.40" stroke="#222" stroke-width="0.9" />
<line x1="663.60" y1="676.90" x2="663.60" y2="679.40" stroke="#222" stroke-width="0.9" />
<text x="663.60" y="526.30" font-size="20.5" text-anchor="middle" font-weight="bold" textLength="16.40" lengthAdjust="spacingAndGlyphs" >**</text>
<text x="570.60" y="698.20" font-size="16.4" font-style="italic" stroke="#000" stroke-width="0.18" textLength="32.20" lengthAdjust="spacingAndGlyphs">Oxtr</text>
<text x="602.20" y="693.40" font-size="10.00" font-style="italic" stroke="#000" stroke-width="0.18" textLength="13.40" lengthAdjust="spacingAndGlyphs">+/+</text>
<text x="642.60" y="698.20" font-size="16.4" font-style="italic" stroke="#000" stroke-width="0.18" textLength="32.20" lengthAdjust="spacingAndGlyphs">Oxtr</text>
<text x="675.40" y="693.40" font-size="10.00" font-style="italic" stroke="#000" stroke-width="0.18" textLength="7.80" lengthAdjust="spacingAndGlyphs">-/-</text>
<text x="0" y="0" font-size="13.5" textLength="46.40" lengthAdjust="spacingAndGlyphs" stroke="#000" stroke-width="0.18" transform="translate(523.20 613.60) rotate(-90)">E/I ratio</text>
<path fill="none" stroke="#333" stroke-width="0.65" d="M223.42,499.39C223.87,498.58 225.22,496.23 226.13,494.52C227.03,492.80 227.93,491.15 228.84,489.10C229.74,487.05 230.64,484.81 231.54,482.19C232.45,479.57 233.42,476.10 234.25,473.39C235.09,470.68 235.65,468.67 236.56,465.94C237.46,463.21 238.59,459.87 239.67,457.00C240.75,454.13 241.93,451.27 243.06,448.74C244.19,446.21 245.34,443.88 246.44,441.83C247.55,439.78 248.34,438.42 249.69,436.41C251.05,434.40 253.08,431.54 254.57,429.78C256.06,428.01 257.26,427.04 258.63,425.85C260.01,424.65 261.03,423.70 262.83,422.60C264.64,421.49 267.28,420.14 269.47,419.21C271.66,418.28 272.72,417.83 275.97,417.04C279.23,416.26 284.63,415.19 289.00,414.50C293.37,413.81 297.80,413.27 302.20,412.90C306.60,412.53 311.00,412.43 315.40,412.30C319.80,412.17 324.23,412.13 328.60,412.10C332.97,412.07 339.43,412.10 341.60,412.10"/>
<path fill="none" stroke="#000" stroke-width="0.95" d="M223.42,499.39C223.87,498.60 225.22,496.35 226.13,494.65C227.03,492.96 227.93,491.27 228.84,489.24C229.74,487.20 230.64,485.06 231.54,482.46C232.45,479.87 233.42,476.37 234.25,473.66C235.09,470.95 235.65,468.92 236.56,466.21C237.46,463.50 238.59,460.23 239.67,457.41C240.75,454.58 241.93,451.76 243.06,449.28C244.19,446.80 245.34,444.54 246.44,442.51C247.55,440.48 248.34,439.05 249.69,437.09C251.05,435.13 253.08,432.42 254.57,430.72C256.06,429.03 257.26,428.13 258.63,426.93C260.01,425.73 261.03,424.67 262.83,423.54C264.64,422.42 267.28,421.11 269.47,420.16C271.66,419.21 272.72,418.73 275.97,417.86C279.23,416.98 284.63,415.71 289.00,414.90C293.37,414.09 297.80,413.43 302.20,413.00C306.60,412.57 311.00,412.45 315.40,412.30C319.80,412.15 324.23,412.13 328.60,412.10C332.97,412.07 339.43,412.10 341.60,412.10"/>
<line x1="223.20" y1="403.10" x2="223.20" y2="499.90" stroke="#4a4a4a" stroke-width="0.9" />
<line x1="222.80" y1="499.50" x2="345.80" y2="499.50" stroke="#4a4a4a" stroke-width="0.9" />
<line x1="221.30" y1="412.10" x2="223.20" y2="412.10" stroke="#666" stroke-width="0.6" />
<text x="220.20" y="414.40" font-size="6.5" text-anchor="end" textLength="9.97" lengthAdjust="spacingAndGlyphs" stroke="#000" stroke-width="0.12">100</text>
<line x1="222.00" y1="420.84" x2="223.20" y2="420.84" stroke="#777" stroke-width="0.6" />
<line x1="221.30" y1="429.58" x2="223.20" y2="429.58" stroke="#666" stroke-width="0.6" />
<text x="220.20" y="431.88" font-size="6.5" text-anchor="end" textLength="6.65" lengthAdjust="spacingAndGlyphs" stroke="#000" stroke-width="0.12">80</text>
<line x1="222.00" y1="438.32" x2="223.20" y2="438.32" stroke="#777" stroke-width="0.6" />
<line x1="221.30" y1="447.06" x2="223.20" y2="447.06" stroke="#666" stroke-width="0.6" />
<text x="220.20" y="449.36" font-size="6.5" text-anchor="end" textLength="6.65" lengthAdjust="spacingAndGlyphs" stroke="#000" stroke-width="0.12">60</text>
<line x1="222.00" y1="455.80" x2="223.20" y2="455.80" stroke="#777" stroke-width="0.6" />
<line x1="221.30" y1="464.54" x2="223.20" y2="464.54" stroke="#666" stroke-width="0.6" />
<text x="220.20" y="466.84" font-size="6.5" text-anchor="end" textLength="6.65" lengthAdjust="spacingAndGlyphs" stroke="#000" stroke-width="0.12">40</text>
<line x1="222.00" y1="473.28" x2="223.20" y2="473.28" stroke="#777" stroke-width="0.6" />
<line x1="221.30" y1="482.02" x2="223.20" y2="482.02" stroke="#666" stroke-width="0.6" />
<text x="220.20" y="484.32" font-size="6.5" text-anchor="end" textLength="6.65" lengthAdjust="spacingAndGlyphs" stroke="#000" stroke-width="0.12">20</text>
<line x1="222.00" y1="490.76" x2="223.20" y2="490.76" stroke="#777" stroke-width="0.6" />
<line x1="221.30" y1="499.50" x2="223.20" y2="499.50" stroke="#666" stroke-width="0.6" />
<text x="220.20" y="501.80" font-size="6.5" text-anchor="end" textLength="3.32" lengthAdjust="spacingAndGlyphs" stroke="#000" stroke-width="0.12">0</text>
<line x1="223.20" y1="499.50" x2="223.20" y2="501.40" stroke="#666" stroke-width="0.6" />
<text x="223.20" y="507.60" font-size="6.5" text-anchor="middle" textLength="3.54" lengthAdjust="spacingAndGlyphs" stroke="#000" stroke-width="0.12">0</text>
<line x1="229.77" y1="499.50" x2="229.77" y2="500.70" stroke="#777" stroke-width="0.6" />
<line x1="236.35" y1="499.50" x2="236.35" y2="501.40" stroke="#666" stroke-width="0.6" />
<text x="236.35" y="507.60" font-size="6.5" text-anchor="middle" textLength="7.08" lengthAdjust="spacingAndGlyphs" stroke="#000" stroke-width="0.12">10</text>
<line x1="242.92" y1="499.50" x2="242.92" y2="500.70" stroke="#777" stroke-width="0.6" />
<line x1="249.50" y1="499.50" x2="249.50" y2="501.40" stroke="#666" stroke-width="0.6" />
<text x="249.50" y="507.60" font-size="6.5" text-anchor="middle" textLength="7.08" lengthAdjust="spacingAndGlyphs" stroke="#000" stroke-width="0.12">20</text>
<line x1="256.07" y1="499.50" x2="256.07" y2="500.70" stroke="#777" stroke-width="0.6" />
<line x1="262.65" y1="499.50" x2="262.65" y2="501.40" stroke="#666" stroke-width="0.6" />
<text x="262.65" y="507.60" font-size="6.5" text-anchor="middle" textLength="7.08" lengthAdjust="spacingAndGlyphs" stroke="#000" stroke-width="0.12">30</text>
<line x1="269.22" y1="499.50" x2="269.22" y2="500.70" stroke="#777" stroke-width="0.6" />
<line x1="275.80" y1="499.50" x2="275.80" y2="501.40" stroke="#666" stroke-width="0.6" />
<text x="275.80" y="507.60" font-size="6.5" text-anchor="middle" textLength="7.08" lengthAdjust="spacingAndGlyphs" stroke="#000" stroke-width="0.12">40</text>
<line x1="282.38" y1="499.50" x2="282.38" y2="500.70" stroke="#777" stroke-width="0.6" />
<line x1="288.95" y1="499.50" x2="288.95" y2="501.40" stroke="#666" stroke-width="0.6" />
<text x="288.95" y="507.60" font-size="6.5" text-anchor="middle" textLength="7.08" lengthAdjust="spacingAndGlyphs" stroke="#000" stroke-width="0.12">50</text>
<line x1="295.52" y1="499.50" x2="295.52" y2="500.70" stroke="#777" stroke-width="0.6" />
<line x1="302.10" y1="499.50" x2="302.10" y2="501.40" stroke="#666" stroke-width="0.6" />
<text x="302.10" y="507.60" font-size="6.5" text-anchor="middle" textLength="7.08" lengthAdjust="spacingAndGlyphs" stroke="#000" stroke-width="0.12">60</text>
<line x1="308.68" y1="499.50" x2="308.68" y2="500.70" stroke="#777" stroke-width="0.6" />
<line x1="315.25" y1="499.50" x2="315.25" y2="501.40" stroke="#666" stroke-width="0.6" />
<text x="315.25" y="507.60" font-size="6.5" text-anchor="middle" textLength="7.08" lengthAdjust="spacingAndGlyphs" stroke="#000" stroke-width="0.12">70</text>
<line x1="321.82" y1="499.50" x2="321.82" y2="500.70" stroke="#777" stroke-width="0.6" />
<line x1="328.40" y1="499.50" x2="328.40" y2="501.40" stroke="#666" stroke-width="0.6" />
<text x="328.40" y="507.60" font-size="6.5" text-anchor="middle" textLength="7.08" lengthAdjust="spacingAndGlyphs" stroke="#000" stroke-width="0.12">80</text>
<line x1="334.97" y1="499.50" x2="334.97" y2="500.70" stroke="#777" stroke-width="0.6" />
<line x1="341.55" y1="499.50" x2="341.55" y2="501.40" stroke="#666" stroke-width="0.6" />
<text x="341.55" y="507.60" font-size="6.5" text-anchor="middle" textLength="7.08" lengthAdjust="spacingAndGlyphs" stroke="#000" stroke-width="0.12">90</text>
<text x="284.65" y="519.50" font-size="14.3" text-anchor="middle" textLength="73.30" lengthAdjust="spacingAndGlyphs" stroke="#000" stroke-width="0.55">Range (pA)</text>
<text x="0" y="0" font-size="14" textLength="144.70" lengthAdjust="spacingAndGlyphs" stroke="#000" stroke-width="0.18" transform="translate(205.60 516.50) rotate(-90)">Cumulative Probability (%)</text>
<line x1="230.50" y1="381.30" x2="244.50" y2="381.30" stroke="#b0b0b0" stroke-width="0.7" />
<line x1="230.50" y1="396.20" x2="244.50" y2="396.20" stroke="#000" stroke-width="1.1" />
<text x="250.30" y="386.60" font-size="17" font-style="italic" stroke="#000" stroke-width="0.18" textLength="31.90" lengthAdjust="spacingAndGlyphs">Oxtr</text>
<text x="281.20" y="381.90" font-size="9.50" font-style="italic" stroke="#000" stroke-width="0.18" textLength="13.00" lengthAdjust="spacingAndGlyphs">+/+</text>
<text x="249.50" y="400.90" font-size="17" font-style="italic" stroke="#000" stroke-width="0.18" textLength="31.90" lengthAdjust="spacingAndGlyphs">Oxtr</text>
<text x="280.80" y="396.20" font-size="9.50" font-style="italic" stroke="#000" stroke-width="0.18" textLength="7.60" lengthAdjust="spacingAndGlyphs">-/-</text>
<rect x="274.10" y="447.00" width="30.50" height="45.80" fill="#000" stroke="#333" stroke-width="0.4"/>
<rect x="312.10" y="441.80" width="30.60" height="51.00" fill="#a8151c" stroke="#5a1010" stroke-width="0.4"/>
<line x1="289.40" y1="442.40" x2="289.40" y2="447.00" stroke="#aaa" stroke-width="0.6" />
<line x1="288.60" y1="442.40" x2="290.20" y2="442.40" stroke="#aaa" stroke-width="0.6" />
<line x1="327.10" y1="438.10" x2="327.10" y2="441.80" stroke="#aaa" stroke-width="0.6" />
<line x1="326.30" y1="438.10" x2="327.90" y2="438.10" stroke="#aaa" stroke-width="0.6" />
<line x1="269.60" y1="437.00" x2="269.60" y2="492.80" stroke="#777" stroke-width="0.6" />
<line x1="269.60" y1="492.80" x2="343.80" y2="492.80" stroke="#777" stroke-width="0.6" />
<line x1="268.10" y1="441.80" x2="269.60" y2="441.80" stroke="#777" stroke-width="0.5" />
<text x="267.40" y="443.20" font-size="4.0" text-anchor="end" textLength="3.29" lengthAdjust="spacingAndGlyphs" stroke="#000" stroke-width="0.15">25</text>
<line x1="268.10" y1="452.00" x2="269.60" y2="452.00" stroke="#777" stroke-width="0.5" />
<text x="267.40" y="453.40" font-size="4.0" text-anchor="end" textLength="3.29" lengthAdjust="spacingAndGlyphs" stroke="#000" stroke-width="0.15">20</text>
<line x1="268.10" y1="462.10" x2="269.60" y2="462.10" stroke="#777" stroke-width="0.5" />
<text x="267.40" y="463.50" font-size="4.0" text-anchor="end" textLength="3.29" lengthAdjust="spacingAndGlyphs" stroke="#000" stroke-width="0.15">15</text>
<line x1="268.10" y1="472.20" x2="269.60" y2="472.20" stroke="#777" stroke-width="0.5" />
<text x="267.40" y="473.60" font-size="4.0" text-anchor="end" textLength="3.29" lengthAdjust="spacingAndGlyphs" stroke="#000" stroke-width="0.15">10</text>
<line x1="268.10" y1="482.30" x2="269.60" y2="482.30" stroke="#777" stroke-width="0.5" />
<text x="267.40" y="483.70" font-size="4.0" text-anchor="end" textLength="1.65" lengthAdjust="spacingAndGlyphs" stroke="#000" stroke-width="0.15">5</text>
<line x1="268.10" y1="492.40" x2="269.60" y2="492.40" stroke="#777" stroke-width="0.5" />
<text x="267.40" y="493.80" font-size="4.0" text-anchor="end" textLength="1.65" lengthAdjust="spacingAndGlyphs" stroke="#000" stroke-width="0.15">0</text>
<line x1="268.70" y1="446.90" x2="269.60" y2="446.90" stroke="#888" stroke-width="0.4" />
<line x1="268.70" y1="457.05" x2="269.60" y2="457.05" stroke="#888" stroke-width="0.4" />
<line x1="268.70" y1="467.15" x2="269.60" y2="467.15" stroke="#888" stroke-width="0.4" />
<line x1="268.70" y1="477.25" x2="269.60" y2="477.25" stroke="#888" stroke-width="0.4" />
<line x1="268.70" y1="487.35" x2="269.60" y2="487.35" stroke="#888" stroke-width="0.4" />
<line x1="289.35" y1="492.80" x2="289.35" y2="494.10" stroke="#777" stroke-width="0.5" />
<line x1="327.40" y1="492.80" x2="327.40" y2="494.10" stroke="#777" stroke-width="0.5" />
<text x="0" y="0" font-size="12.2" textLength="46.40" lengthAdjust="spacingAndGlyphs" stroke="#000" stroke-width="0.18" transform="translate(260.80 492.00) rotate(-90)">amplitude</text>
<path fill="none" stroke="#555" stroke-width="0.8" d="M222.70,678.35C223.35,677.88 225.42,676.64 226.60,675.50C227.78,674.36 228.75,673.20 229.80,671.50C230.85,669.80 231.87,667.78 232.90,665.30C233.93,662.82 234.95,659.48 236.00,656.60C237.05,653.72 238.15,650.73 239.20,648.00C240.25,645.27 241.22,642.63 242.30,640.20C243.38,637.77 244.55,635.48 245.70,633.40C246.85,631.32 248.02,629.53 249.20,627.70C250.38,625.87 251.60,624.05 252.80,622.40C254.00,620.75 255.22,619.22 256.40,617.80C257.58,616.38 258.72,615.08 259.90,613.90C261.08,612.72 262.30,611.57 263.50,610.70C264.70,609.83 265.92,609.32 267.10,608.70C268.28,608.08 269.20,607.73 270.60,607.00C272.00,606.27 273.77,605.12 275.50,604.30C277.23,603.48 279.17,602.72 281.00,602.10C282.83,601.48 284.67,601.02 286.50,600.60C288.33,600.18 290.17,599.85 292.00,599.60C293.83,599.35 295.67,599.23 297.50,599.10C299.33,598.97 301.15,598.97 303.00,598.80C304.85,598.63 306.77,598.33 308.60,598.10C310.43,597.87 311.25,597.60 314.00,597.40C316.75,597.20 319.95,597.00 325.10,596.90C330.25,596.80 341.60,596.82 344.90,596.80"/>
<path fill="none" stroke="#000" stroke-width="1.4" d="M222.70,678.35C223.22,677.81 224.75,676.62 225.80,675.10C226.85,673.58 228.08,671.17 229.00,669.20C229.92,667.23 230.52,665.52 231.30,663.30C232.08,661.08 232.92,658.58 233.70,655.90C234.48,653.22 235.22,650.08 236.00,647.20C236.78,644.32 237.62,641.33 238.40,638.60C239.18,635.87 240.08,632.97 240.70,630.80C241.32,628.63 241.27,627.88 242.10,625.60C242.93,623.32 244.52,619.47 245.70,617.10C246.88,614.73 248.02,613.00 249.20,611.40C250.38,609.80 251.60,608.57 252.80,607.50C254.00,606.43 255.22,605.68 256.40,605.00C257.58,604.32 258.72,603.85 259.90,603.40C261.08,602.95 262.30,602.60 263.50,602.30C264.70,602.00 265.92,601.82 267.10,601.60C268.28,601.38 269.42,601.22 270.60,601.00C271.78,600.78 273.02,600.52 274.20,600.30C275.38,600.08 276.52,599.90 277.70,599.70C278.88,599.50 279.83,599.33 281.30,599.10C282.77,598.87 284.72,598.53 286.50,598.30C288.28,598.07 289.25,597.85 292.00,597.70C294.75,597.55 299.33,597.50 303.00,597.40C306.67,597.30 310.32,597.20 314.00,597.10C317.68,597.00 319.95,596.87 325.10,596.80C330.25,596.73 341.60,596.72 344.90,596.70"/>
<line x1="222.40" y1="588.10" x2="222.40" y2="678.50" stroke="#4a4a4a" stroke-width="0.9" />
<line x1="222.00" y1="678.10" x2="345.80" y2="678.10" stroke="#4a4a4a" stroke-width="0.9" />
<line x1="220.50" y1="597.10" x2="222.40" y2="597.10" stroke="#666" stroke-width="0.6" />
<text x="219.40" y="599.40" font-size="6.5" text-anchor="end" textLength="9.97" lengthAdjust="spacingAndGlyphs" stroke="#000" stroke-width="0.12">100</text>
<line x1="221.20" y1="605.20" x2="222.40" y2="605.20" stroke="#777" stroke-width="0.6" />
<line x1="220.50" y1="613.30" x2="222.40" y2="613.30" stroke="#666" stroke-width="0.6" />
<text x="219.40" y="615.60" font-size="6.5" text-anchor="end" textLength="6.65" lengthAdjust="spacingAndGlyphs" stroke="#000" stroke-width="0.12">80</text>
<line x1="221.20" y1="621.40" x2="222.40" y2="621.40" stroke="#777" stroke-width="0.6" />
<line x1="220.50" y1="629.50" x2="222.40" y2="629.50" stroke="#666" stroke-width="0.6" />
<text x="219.40" y="631.80" font-size="6.5" text-anchor="end" textLength="6.65" lengthAdjust="spacingAndGlyphs" stroke="#000" stroke-width="0.12">60</text>
<line x1="221.20" y1="637.60" x2="222.40" y2="637.60" stroke="#777" stroke-width="0.6" />
<line x1="220.50" y1="645.70" x2="222.40" y2="645.70" stroke="#666" stroke-width="0.6" />
<text x="219.40" y="648.00" font-size="6.5" text-anchor="end" textLength="6.65" lengthAdjust="spacingAndGlyphs" stroke="#000" stroke-width="0.12">40</text>
<line x1="221.20" y1="653.80" x2="222.40" y2="653.80" stroke="#777" stroke-width="0.6" />
<line x1="220.50" y1="661.90" x2="222.40" y2="661.90" stroke="#666" stroke-width="0.6" />
<text x="219.40" y="664.20" font-size="6.5" text-anchor="end" textLength="6.65" lengthAdjust="spacingAndGlyphs" stroke="#000" stroke-width="0.12">20</text>
<line x1="221.20" y1="670.00" x2="222.40" y2="670.00" stroke="#777" stroke-width="0.6" />
<line x1="220.50" y1="678.10" x2="222.40" y2="678.10" stroke="#666" stroke-width="0.6" />
<text x="219.40" y="680.40" font-size="6.5" text-anchor="end" textLength="3.32" lengthAdjust="spacingAndGlyphs" stroke="#000" stroke-width="0.12">0</text>
<line x1="222.40" y1="678.10" x2="222.40" y2="680.00" stroke="#666" stroke-width="0.6" />
<text x="222.40" y="686.10" font-size="6.5" text-anchor="middle" textLength="3.54" lengthAdjust="spacingAndGlyphs" stroke="#000" stroke-width="0.12">0</text>
<line x1="230.53" y1="678.10" x2="230.53" y2="679.30" stroke="#777" stroke-width="0.6" />
<line x1="238.67" y1="678.10" x2="238.67" y2="680.00" stroke="#666" stroke-width="0.6" />
<text x="238.67" y="686.10" font-size="6.5" text-anchor="middle" textLength="7.08" lengthAdjust="spacingAndGlyphs" stroke="#000" stroke-width="0.12">10</text>
<line x1="246.81" y1="678.10" x2="246.81" y2="679.30" stroke="#777" stroke-width="0.6" />
<line x1="254.94" y1="678.10" x2="254.94" y2="680.00" stroke="#666" stroke-width="0.6" />
<text x="254.94" y="686.10" font-size="6.5" text-anchor="middle" textLength="7.08" lengthAdjust="spacingAndGlyphs" stroke="#000" stroke-width="0.12">20</text>
<line x1="263.07" y1="678.10" x2="263.07" y2="679.30" stroke="#777" stroke-width="0.6" />
<line x1="271.21" y1="678.10" x2="271.21" y2="680.00" stroke="#666" stroke-width="0.6" />
<text x="271.21" y="686.10" font-size="6.5" text-anchor="middle" textLength="7.08" lengthAdjust="spacingAndGlyphs" stroke="#000" stroke-width="0.12">30</text>
<line x1="279.35" y1="678.10" x2="279.35" y2="679.30" stroke="#777" stroke-width="0.6" />
<line x1="287.48" y1="678.10" x2="287.48" y2="680.00" stroke="#666" stroke-width="0.6" />
<text x="287.48" y="686.10" font-size="6.5" text-anchor="middle" textLength="7.08" lengthAdjust="spacingAndGlyphs" stroke="#000" stroke-width="0.12">40</text>
<line x1="295.62" y1="678.10" x2="295.62" y2="679.30" stroke="#777" stroke-width="0.6" />
<line x1="303.75" y1="678.10" x2="303.75" y2="680.00" stroke="#666" stroke-width="0.6" />
<text x="303.75" y="686.10" font-size="6.5" text-anchor="middle" textLength="7.08" lengthAdjust="spacingAndGlyphs" stroke="#000" stroke-width="0.12">50</text>
<line x1="311.88" y1="678.10" x2="311.88" y2="679.30" stroke="#777" stroke-width="0.6" />
<line x1="320.02" y1="678.10" x2="320.02" y2="680.00" stroke="#666" stroke-width="0.6" />
<text x="320.02" y="686.10" font-size="6.5" text-anchor="middle" textLength="7.08" lengthAdjust="spacingAndGlyphs" stroke="#000" stroke-width="0.12">60</text>
<line x1="328.15" y1="678.10" x2="328.15" y2="679.30" stroke="#777" stroke-width="0.6" />
<line x1="336.29" y1="678.10" x2="336.29" y2="680.00" stroke="#666" stroke-width="0.6" />
<text x="336.29" y="686.10" font-size="6.5" text-anchor="middle" textLength="7.08" lengthAdjust="spacingAndGlyphs" stroke="#000" stroke-width="0.12">70</text>
<line x1="344.43" y1="678.10" x2="344.43" y2="679.30" stroke="#777" stroke-width="0.6" />
<text x="283.05" y="698.50" font-size="14.3" text-anchor="middle" textLength="73.10" lengthAdjust="spacingAndGlyphs" stroke="#000" stroke-width="0.55">Range (pA)</text>
<text x="0" y="0" font-size="14" textLength="144.60" lengthAdjust="spacingAndGlyphs" stroke="#000" stroke-width="0.18" transform="translate(205.60 695.30) rotate(-90)">Cumulative Probability (%)</text>
<line x1="228.60" y1="564.90" x2="241.80" y2="564.90" stroke="#b0b0b0" stroke-width="0.7" />
<line x1="228.60" y1="579.40" x2="241.80" y2="579.40" stroke="#000" stroke-width="1.1" />
<text x="247.80" y="569.90" font-size="17" font-style="italic" stroke="#000" stroke-width="0.18" textLength="31.90" lengthAdjust="spacingAndGlyphs">Oxtr</text>
<text x="278.70" y="565.20" font-size="9.50" font-style="italic" stroke="#000" stroke-width="0.18" textLength="13.00" lengthAdjust="spacingAndGlyphs">+/+</text>
<text x="247.00" y="584.80" font-size="17" font-style="italic" stroke="#000" stroke-width="0.18" textLength="31.90" lengthAdjust="spacingAndGlyphs">Oxtr</text>
<text x="278.30" y="580.10" font-size="9.50" font-style="italic" stroke="#000" stroke-width="0.18" textLength="7.60" lengthAdjust="spacingAndGlyphs">-/-</text>
<rect x="274.20" y="626.20" width="30.40" height="46.70" fill="#000" stroke="#333" stroke-width="0.4"/>
<rect x="312.10" y="631.20" width="30.40" height="41.70" fill="#a8151c" stroke="#5a1010" stroke-width="0.4"/>
<line x1="289.70" y1="621.20" x2="289.70" y2="626.20" stroke="#aaa" stroke-width="0.6" />
<line x1="288.90" y1="621.20" x2="290.50" y2="621.20" stroke="#aaa" stroke-width="0.6" />
<line x1="327.30" y1="626.20" x2="327.30" y2="631.20" stroke="#aaa" stroke-width="0.6" />
<line x1="326.50" y1="626.20" x2="328.10" y2="626.20" stroke="#aaa" stroke-width="0.6" />
<line x1="270.20" y1="616.80" x2="270.20" y2="672.90" stroke="#777" stroke-width="0.6" />
<line x1="270.20" y1="672.90" x2="343.80" y2="672.90" stroke="#777" stroke-width="0.6" />
<line x1="268.70" y1="617.30" x2="270.20" y2="617.30" stroke="#777" stroke-width="0.5" />
<text x="268.00" y="618.70" font-size="4.0" text-anchor="end" textLength="3.29" lengthAdjust="spacingAndGlyphs" stroke="#000" stroke-width="0.15">25</text>
<line x1="268.70" y1="628.50" x2="270.20" y2="628.50" stroke="#777" stroke-width="0.5" />
<text x="268.00" y="629.90" font-size="4.0" text-anchor="end" textLength="3.29" lengthAdjust="spacingAndGlyphs" stroke="#000" stroke-width="0.15">20</text>
<line x1="268.70" y1="639.40" x2="270.20" y2="639.40" stroke="#777" stroke-width="0.5" />
<text x="268.00" y="640.80" font-size="4.0" text-anchor="end" textLength="3.29" lengthAdjust="spacingAndGlyphs" stroke="#000" stroke-width="0.15">15</text>
<line x1="268.70" y1="650.40" x2="270.20" y2="650.40" stroke="#777" stroke-width="0.5" />
<text x="268.00" y="651.80" font-size="4.0" text-anchor="end" textLength="3.29" lengthAdjust="spacingAndGlyphs" stroke="#000" stroke-width="0.15">10</text>
<line x1="268.70" y1="661.60" x2="270.20" y2="661.60" stroke="#777" stroke-width="0.5" />
<text x="268.00" y="663.00" font-size="4.0" text-anchor="end" textLength="1.65" lengthAdjust="spacingAndGlyphs" stroke="#000" stroke-width="0.15">5</text>
<line x1="268.70" y1="672.90" x2="270.20" y2="672.90" stroke="#777" stroke-width="0.5" />
<text x="268.00" y="674.30" font-size="4.0" text-anchor="end" textLength="1.65" lengthAdjust="spacingAndGlyphs" stroke="#000" stroke-width="0.15">0</text>
<line x1="269.30" y1="622.90" x2="270.20" y2="622.90" stroke="#888" stroke-width="0.4" />
<line x1="269.30" y1="633.95" x2="270.20" y2="633.95" stroke="#888" stroke-width="0.4" />
<line x1="269.30" y1="644.90" x2="270.20" y2="644.90" stroke="#888" stroke-width="0.4" />
<line x1="269.30" y1="656.00" x2="270.20" y2="656.00" stroke="#888" stroke-width="0.4" />
<line x1="269.30" y1="667.25" x2="270.20" y2="667.25" stroke="#888" stroke-width="0.4" />
<line x1="289.40" y1="672.90" x2="289.40" y2="674.20" stroke="#777" stroke-width="0.5" />
<line x1="327.30" y1="672.90" x2="327.30" y2="674.20" stroke="#777" stroke-width="0.5" />
<text x="0" y="0" font-size="12.2" textLength="46.20" lengthAdjust="spacingAndGlyphs" stroke="#000" stroke-width="0.18" transform="translate(260.80 670.40) rotate(-90)">amplitude</text>
<text x="246.40" y="606.30" font-size="14.5" text-anchor="middle" font-weight="bold" stroke="#000" stroke-width="0.45">#</text>
</svg></body></html>
